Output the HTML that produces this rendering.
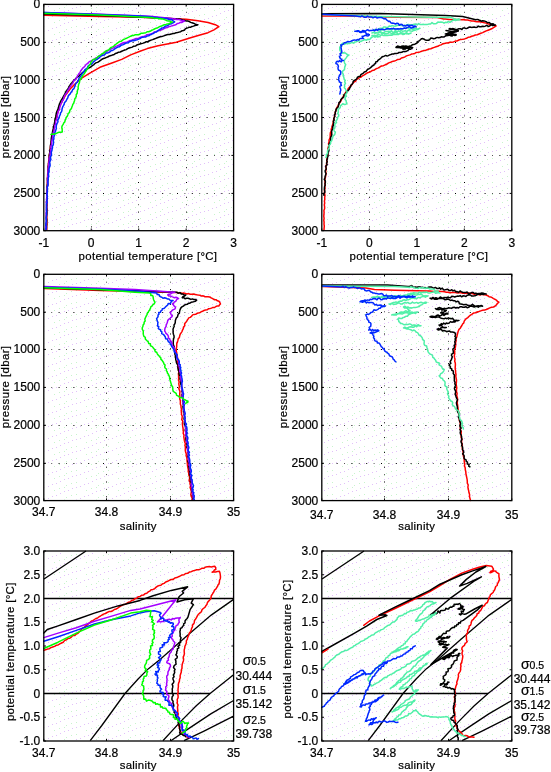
<!DOCTYPE html>
<html><head><meta charset="utf-8"><style>
html,body{margin:0;padding:0;background:#fff;}
svg{display:block;}
text{-webkit-font-smoothing:antialiased;}
.tx{will-change:transform;}
text{font-family:"Liberation Sans", sans-serif;fill:#000;stroke:#000;stroke-width:0.22;}
.f{fill:none;stroke:#000;stroke-width:1.3;}
.t{fill:none;stroke:#000;stroke-width:1;}
.g{stroke:#000;stroke-width:1;stroke-dasharray:1 13.8;}
.g2{stroke:#555;stroke-width:1;stroke-dasharray:1 13.8;stroke-dashoffset:-7.4;}
.d{fill:none;stroke-width:1.5;stroke-linejoin:round;stroke-linecap:round;}
.k{fill:none;stroke:#000;stroke-width:1.3;}
</style></head><body>
<svg class="tx" width="551" height="772" viewBox="0 0 551 772">
<defs><pattern id="bg" patternUnits="userSpaceOnUse" x="0" y="0" width="32" height="12"><rect x="0" y="11" width="1" height="1" fill="#e2c0fa"/><rect x="4" y="10" width="1" height="1" fill="#e2c0fa"/><rect x="8" y="8" width="1" height="1" fill="#e2c0fa"/><rect x="12" y="7" width="1" height="1" fill="#e2c0fa"/><rect x="16" y="6" width="1" height="1" fill="#e2c0fa"/><rect x="20" y="4" width="1" height="1" fill="#e2c0fa"/><rect x="24" y="3" width="1" height="1" fill="#e2c0fa"/><rect x="28" y="1" width="1" height="1" fill="#e2c0fa"/><rect x="2" y="5" width="1" height="1" fill="#c8f4cc"/><rect x="7" y="3" width="1" height="1" fill="#c8f4cc"/><rect x="12" y="2" width="1" height="1" fill="#c8f4cc"/><rect x="17" y="12" width="1" height="1" fill="#c8f4cc"/><rect x="22" y="10" width="1" height="1" fill="#c8f4cc"/><rect x="27" y="8" width="1" height="1" fill="#c8f4cc"/><rect x="0" y="7" width="1" height="1" fill="#c8f4cc"/></pattern></defs>
<rect x="44.8" y="5.4" width="187.8" height="224.3" fill="url(#bg)"/>
<rect x="322.8" y="5.4" width="188.0" height="224.3" fill="url(#bg)"/>
<rect x="44.8" y="275.3" width="187.8" height="224.3" fill="url(#bg)"/>
<rect x="322.8" y="275.3" width="188.0" height="224.3" fill="url(#bg)"/>
<rect x="44.8" y="552.0" width="187.8" height="188.0" fill="url(#bg)"/>
<rect x="322.8" y="552.0" width="188.0" height="188.0" fill="url(#bg)"/>
<line x1="91.50" y1="4.4" x2="91.50" y2="230.7" class="g"/>
<line x1="91.50" y1="4.4" x2="91.50" y2="230.7" class="g2"/>
<line x1="138.50" y1="4.4" x2="138.50" y2="230.7" class="g"/>
<line x1="138.50" y1="4.4" x2="138.50" y2="230.7" class="g2"/>
<line x1="186.50" y1="4.4" x2="186.50" y2="230.7" class="g"/>
<line x1="186.50" y1="4.4" x2="186.50" y2="230.7" class="g2"/>
<line x1="43.8" y1="42.50" x2="233.6" y2="42.50" class="g"/>
<line x1="43.8" y1="42.50" x2="233.6" y2="42.50" class="g2"/>
<line x1="43.8" y1="79.50" x2="233.6" y2="79.50" class="g"/>
<line x1="43.8" y1="79.50" x2="233.6" y2="79.50" class="g2"/>
<line x1="43.8" y1="117.50" x2="233.6" y2="117.50" class="g"/>
<line x1="43.8" y1="117.50" x2="233.6" y2="117.50" class="g2"/>
<line x1="43.8" y1="155.50" x2="233.6" y2="155.50" class="g"/>
<line x1="43.8" y1="155.50" x2="233.6" y2="155.50" class="g2"/>
<line x1="43.8" y1="193.50" x2="233.6" y2="193.50" class="g"/>
<line x1="43.8" y1="193.50" x2="233.6" y2="193.50" class="g2"/>
<line x1="369.50" y1="4.4" x2="369.50" y2="230.7" class="g"/>
<line x1="369.50" y1="4.4" x2="369.50" y2="230.7" class="g2"/>
<line x1="416.50" y1="4.4" x2="416.50" y2="230.7" class="g"/>
<line x1="416.50" y1="4.4" x2="416.50" y2="230.7" class="g2"/>
<line x1="464.50" y1="4.4" x2="464.50" y2="230.7" class="g"/>
<line x1="464.50" y1="4.4" x2="464.50" y2="230.7" class="g2"/>
<line x1="321.8" y1="42.50" x2="511.8" y2="42.50" class="g"/>
<line x1="321.8" y1="42.50" x2="511.8" y2="42.50" class="g2"/>
<line x1="321.8" y1="79.50" x2="511.8" y2="79.50" class="g"/>
<line x1="321.8" y1="79.50" x2="511.8" y2="79.50" class="g2"/>
<line x1="321.8" y1="117.50" x2="511.8" y2="117.50" class="g"/>
<line x1="321.8" y1="117.50" x2="511.8" y2="117.50" class="g2"/>
<line x1="321.8" y1="155.50" x2="511.8" y2="155.50" class="g"/>
<line x1="321.8" y1="155.50" x2="511.8" y2="155.50" class="g2"/>
<line x1="321.8" y1="193.50" x2="511.8" y2="193.50" class="g"/>
<line x1="321.8" y1="193.50" x2="511.8" y2="193.50" class="g2"/>
<line x1="106.50" y1="274.3" x2="106.50" y2="500.6" class="g"/>
<line x1="106.50" y1="274.3" x2="106.50" y2="500.6" class="g2"/>
<line x1="170.50" y1="274.3" x2="170.50" y2="500.6" class="g"/>
<line x1="170.50" y1="274.3" x2="170.50" y2="500.6" class="g2"/>
<line x1="43.8" y1="312.50" x2="233.6" y2="312.50" class="g"/>
<line x1="43.8" y1="312.50" x2="233.6" y2="312.50" class="g2"/>
<line x1="43.8" y1="349.50" x2="233.6" y2="349.50" class="g"/>
<line x1="43.8" y1="349.50" x2="233.6" y2="349.50" class="g2"/>
<line x1="43.8" y1="387.50" x2="233.6" y2="387.50" class="g"/>
<line x1="43.8" y1="387.50" x2="233.6" y2="387.50" class="g2"/>
<line x1="43.8" y1="425.50" x2="233.6" y2="425.50" class="g"/>
<line x1="43.8" y1="425.50" x2="233.6" y2="425.50" class="g2"/>
<line x1="43.8" y1="463.50" x2="233.6" y2="463.50" class="g"/>
<line x1="43.8" y1="463.50" x2="233.6" y2="463.50" class="g2"/>
<line x1="384.50" y1="274.3" x2="384.50" y2="500.6" class="g"/>
<line x1="384.50" y1="274.3" x2="384.50" y2="500.6" class="g2"/>
<line x1="448.50" y1="274.3" x2="448.50" y2="500.6" class="g"/>
<line x1="448.50" y1="274.3" x2="448.50" y2="500.6" class="g2"/>
<line x1="321.8" y1="312.50" x2="511.8" y2="312.50" class="g"/>
<line x1="321.8" y1="312.50" x2="511.8" y2="312.50" class="g2"/>
<line x1="321.8" y1="349.50" x2="511.8" y2="349.50" class="g"/>
<line x1="321.8" y1="349.50" x2="511.8" y2="349.50" class="g2"/>
<line x1="321.8" y1="387.50" x2="511.8" y2="387.50" class="g"/>
<line x1="321.8" y1="387.50" x2="511.8" y2="387.50" class="g2"/>
<line x1="321.8" y1="425.50" x2="511.8" y2="425.50" class="g"/>
<line x1="321.8" y1="425.50" x2="511.8" y2="425.50" class="g2"/>
<line x1="321.8" y1="463.50" x2="511.8" y2="463.50" class="g"/>
<line x1="321.8" y1="463.50" x2="511.8" y2="463.50" class="g2"/>
<polyline points="44.0,15.3 100.0,16.5 140.0,17.3 186.3,19.3 197.9,20.8 208.0,22.5 215.3,24.7 218.9,26.6 213.9,29.8 208.0,32.7 200.8,34.8 190.6,37.8 176.3,42.2 158.1,45.8 147.3,48.6 140.0,51.3 130.7,54.9 121.7,59.4 112.6,62.7 99.9,67.3 89.0,73.6 81.7,78.1 76.3,82.7 70.9,88.1 65.4,95.4 60.0,105.4 56.9,115.0 54.2,125.9 52.0,136.8 50.3,147.7 48.7,160.8 47.6,175.0 47.0,195.0 46.8,230.0" stroke="#ff0000" class="d"/>
<polyline points="44.0,14.0 100.0,15.5 150.0,17.5 179.0,18.9 180.7,19.3 182.5,19.9 184.2,20.2 185.9,20.9 187.7,21.1 189.2,21.4 190.5,22.4 192.0,22.8 193.5,23.2 194.9,23.9 196.4,24.4 197.9,24.7 196.5,25.3 194.9,25.5 193.5,26.1 192.0,26.5 190.7,27.2 189.1,27.2 187.8,27.9 186.3,28.3 185.3,28.9 184.5,30.0 183.4,30.5 181.9,30.8 180.6,31.7 179.1,32.1 177.6,32.5 176.1,32.7 174.5,33.4 172.8,33.5 171.2,34.1 169.5,34.5 167.8,34.6 166.1,35.0 164.5,35.6 163.1,36.1 161.7,36.6 160.1,36.8 158.7,37.3 157.3,37.8 155.8,38.4 154.2,39.0 152.6,39.6 151.0,40.1 149.5,40.8 148.0,41.5 146.3,41.8 144.8,42.5 143.2,43.1 141.6,43.6 140.0,44.0 138.4,44.5 136.8,45.0 135.5,46.1 133.7,46.2 132.3,47.1 130.7,47.6 129.1,48.0 127.6,48.6 126.2,49.6 124.7,50.0 123.2,50.6 121.7,51.3 120.2,52.0 118.6,52.2 117.1,53.0 115.5,53.4 114.2,54.5 112.6,54.9 111.1,55.6 109.5,55.9 108.1,56.8 106.6,57.4 105.1,58.0 103.5,58.5 101.9,59.2 100.5,60.4 99.1,61.4 97.6,62.4 95.8,62.9 94.4,64.0 93.7,64.9 92.6,65.4 91.4,66.5 90.1,67.3 88.7,68.1 87.3,68.9 86.0,69.7 84.9,70.9 83.6,71.8 82.3,72.8 81.2,74.0 79.9,74.9 78.9,76.2 77.4,76.9 76.3,78.1 75.2,79.3 74.1,80.5 72.9,81.6 71.9,82.8 70.7,84.0 69.9,85.4 68.9,86.8 68.3,88.4 67.3,89.8 66.2,91.2 65.4,92.7 64.8,94.2 64.0,95.4 63.2,96.8 62.6,98.2 61.7,99.5 60.9,100.8 60.2,102.4 59.4,104.0 59.0,105.8 58.4,107.4 58.0,109.2 57.2,110.8 56.5,112.3 56.3,113.8 55.9,115.4 55.7,116.9 55.2,118.5 54.9,120.0 54.8,121.7 54.4,123.4 54.2,125.1 53.3,126.6 53.4,128.3 53.0,130.0 52.6,131.7 52.3,133.3 52.2,135.0 51.6,136.6 51.3,138.3 51.3,140.0 51.1,141.7 51.1,143.5 50.5,145.1 50.4,146.9 50.5,148.6 49.9,150.3 49.8,152.0 49.6,153.6 49.2,155.2 49.3,156.9 49.2,158.5 49.2,160.1 49.0,161.8 48.5,163.4 48.5,165.0 48.2,166.7 48.4,168.3 48.1,170.0 48.2,171.7 48.2,173.4 48.0,175.0 47.9,176.7 47.4,178.3 47.5,180.0 47.7,181.7 47.6,183.3 47.4,185.0 47.0,186.7 47.3,188.3 47.3,190.0 46.9,191.7 47.1,193.3 46.7,195.0 46.9,196.7 47.0,198.3 46.8,200.0 46.5,201.8 46.7,203.5 46.7,205.3 46.5,207.1 46.8,208.8 46.8,210.6 46.8,212.4 46.7,214.1 46.4,215.9 46.3,217.6 46.7,219.4 46.7,221.2 46.6,222.9 46.7,224.7 46.3,226.5 46.4,228.2 46.3,230.0" stroke="#000000" class="d"/>
<polyline points="44.0,12.6 100.0,14.3 150.0,16.3 171.8,18.4 173.2,19.0 174.7,18.6 176.1,19.5 177.6,19.2 179.0,19.6 180.5,19.9 181.8,20.7 183.4,20.6 184.8,21.1 183.3,21.6 182.0,22.4 180.3,22.3 179.0,23.2 177.4,23.4 176.2,24.5 174.8,25.1 173.2,25.4 171.8,25.9 170.3,26.4 168.8,26.6 167.4,27.5 165.9,27.7 164.5,28.3 163.2,29.1 161.7,29.7 160.3,30.4 158.7,30.6 157.2,31.2 155.8,31.7 154.2,32.0 153.0,33.1 151.5,33.6 150.0,34.1 148.6,34.6 147.0,34.7 145.8,35.7 144.3,36.2 142.9,36.6 141.4,36.9 140.0,37.5 138.6,38.1 137.2,38.6 135.7,38.6 134.3,39.2 132.8,39.6 131.5,40.4 130.0,40.5 128.6,41.3 127.3,41.9 125.8,42.3 124.2,42.5 122.7,43.0 121.3,43.7 120.0,44.5 118.6,45.3 117.1,45.9 115.6,46.4 114.3,47.5 112.9,48.1 111.4,48.6 110.0,49.5 108.8,50.4 107.5,51.0 106.3,51.8 104.9,52.3 103.7,53.2 102.7,54.3 101.4,55.1 100.0,55.5 98.6,56.2 97.5,57.4 95.9,57.9 94.8,59.0 93.3,59.6 92.0,60.5 91.0,61.0 90.0,61.3 89.0,61.8 88.3,62.9 87.3,63.7 86.2,64.4 85.4,65.4 84.6,66.7 83.3,67.6 82.3,68.8 81.4,70.0 80.5,71.3 79.9,72.7 78.9,73.6 78.4,74.8 77.5,75.8 77.1,77.1 76.3,78.1 75.7,79.5 74.2,80.3 73.3,81.6 72.9,83.1 71.9,84.2 70.9,85.4 70.3,86.8 69.2,87.9 68.8,89.4 67.5,90.5 67.3,92.1 66.3,93.2 65.4,94.5 64.6,95.7 64.1,97.1 63.7,98.5 63.2,99.9 62.1,100.9 61.8,102.5 60.9,103.6 60.6,105.2 59.9,106.6 59.6,108.1 59.4,109.7 58.3,111.0 58.1,112.6 57.6,114.0 57.3,115.5 57.3,117.1 56.7,118.5 56.3,120.0 55.6,121.3 55.6,122.9 55.5,124.3 54.6,125.6 54.8,127.2 54.3,128.6 54.0,130.0 54.0,131.5 53.1,132.8 53.0,134.3 52.8,135.7 52.6,137.1 52.4,138.6 52.0,140.0 51.8,141.4 51.6,142.9 51.7,144.3 51.0,145.7 50.7,147.1 51.1,148.6 50.5,150.0 50.6,151.5 50.0,153.0 50.1,154.5 50.0,156.0 49.4,157.5 49.0,159.0 49.3,160.5 49.0,162.0 48.8,163.4 48.7,164.9 48.6,166.3 48.5,167.8 48.1,169.2 48.0,170.6 47.9,172.1 48.0,173.5 48.0,175.0 47.7,176.5 47.6,178.0 47.6,179.5 47.5,181.0 47.4,182.5 47.9,184.0 47.7,185.5 47.2,187.0 47.3,188.5 47.4,190.0 47.0,191.5 47.0,193.0 47.2,194.6 46.7,196.1 47.0,197.6 46.4,199.2 46.8,200.7 46.2,202.3 46.7,203.8 46.3,205.4 46.7,206.9 46.4,208.5 46.3,210.0 46.4,211.5 46.0,213.1 46.1,214.6 46.2,216.2 46.5,217.7 46.1,219.2 46.3,220.8 46.4,222.3 45.9,223.8 46.0,225.4 45.6,226.9 45.7,228.5 46.0,230.0" stroke="#a400ff" class="d"/>
<polyline points="44.0,12.6 100.0,14.5 140.0,15.9 150.0,16.7 151.6,16.9 153.1,17.2 154.6,17.6 156.3,17.4 157.8,17.6 159.3,18.1 160.9,18.1 162.5,18.2 164.0,18.5 165.6,18.6 167.2,18.6 168.7,19.3 170.2,19.8 171.8,19.6 172.7,20.5 173.7,21.2 174.7,21.8 173.7,22.5 172.5,23.0 171.6,23.8 170.3,24.0 169.0,24.4 168.1,25.3 166.9,25.9 165.4,25.9 164.5,26.9 163.4,27.8 161.9,27.9 160.8,28.9 159.6,29.5 158.4,30.4 157.3,31.2 156.2,32.1 154.8,32.2 153.8,33.2 152.5,33.7 151.4,34.5 150.0,34.8 148.7,35.8 147.2,36.0 145.9,36.9 144.3,37.1 142.7,37.2 141.3,37.6 140.0,38.6 138.7,39.1 137.5,39.7 136.1,39.9 134.8,40.6 133.4,40.8 132.0,40.8 130.7,41.3 129.4,41.7 128.3,42.8 126.8,42.9 125.6,43.4 124.3,44.0 123.1,44.7 121.7,44.9 120.5,45.8 119.3,46.8 117.7,47.1 116.4,47.9 115.1,48.7 113.9,49.7 112.6,50.4 111.2,50.6 110.2,51.7 109.1,52.5 107.8,52.9 106.3,53.0 105.3,54.0 104.3,55.0 102.7,55.3 101.4,55.9 100.2,56.7 99.2,57.8 98.0,58.5 97.0,59.4 95.6,60.0 94.6,61.0 93.5,61.9 92.6,63.0 91.6,64.1 90.1,64.5 89.0,65.4 87.9,66.3 87.4,67.7 86.5,68.8 85.1,69.4 84.4,70.7 83.6,71.8 82.8,73.1 81.8,74.3 81.0,75.7 80.1,77.0 79.0,78.1 78.7,79.6 77.8,80.7 77.4,82.2 76.1,83.1 75.4,84.4 75.1,85.9 74.5,87.2 73.9,88.7 72.6,89.7 72.0,91.3 70.9,92.5 70.2,93.9 69.0,95.0 68.1,96.3 67.8,97.8 67.0,99.0 66.4,100.3 65.6,101.5 64.5,102.6 64.2,104.1 63.6,105.4 62.8,106.6 62.4,107.8 62.0,109.2 61.9,110.6 61.4,111.9 60.5,113.0 60.3,114.6 59.5,116.0 59.2,117.6 58.5,119.0 57.7,120.0 58.0,121.4 57.6,122.6 56.9,123.7 56.4,125.2 56.2,126.8 56.4,128.5 55.8,130.0 55.4,131.5 54.7,133.0 54.7,134.6 54.2,136.0 53.8,137.4 53.9,139.0 53.3,140.3 53.5,141.9 53.4,143.4 53.3,144.8 52.4,146.2 52.5,147.7 52.1,149.1 51.9,150.6 51.3,152.0 51.4,153.5 51.5,155.0 50.8,156.4 50.4,157.8 50.9,159.4 50.3,160.8 49.7,162.3 50.0,164.0 50.1,165.6 49.5,167.1 49.0,168.7 49.1,170.3 49.1,171.9 48.4,173.4 48.5,175.0 48.8,176.5 48.1,178.0 48.3,179.5 47.9,181.0 47.9,182.5 48.0,184.0 48.0,185.5 47.2,187.0 47.5,188.5 47.3,190.0 47.5,191.5 47.1,193.1 46.8,194.6 47.5,196.2 47.0,197.7 47.3,199.2 46.6,200.8 47.3,202.3 46.4,203.8 46.6,205.4 46.6,206.9 46.5,208.5 46.5,210.0 46.7,211.5 46.5,213.1 46.7,214.6 46.5,216.2 46.2,217.7 46.2,219.2 46.4,220.8 46.1,222.3 45.9,223.8 45.8,225.4 46.6,226.9 46.0,228.5 46.0,230.0" stroke="#0028ff" class="d"/>
<polyline points="44.0,13.3 100.0,15.0 140.0,17.0 150.0,17.4 151.5,17.6 152.9,17.7 154.3,18.4 155.8,18.3 157.3,18.2 158.7,18.9 160.2,18.6 161.6,18.9 163.1,19.0 164.5,19.6 165.8,20.1 167.1,20.7 168.5,20.9 169.9,21.1 171.1,21.9 172.5,22.1 171.1,22.3 170.0,23.2 168.7,23.7 167.4,24.0 165.9,24.4 164.4,24.7 162.9,25.3 161.6,26.1 160.0,26.4 158.7,27.1 157.4,28.0 155.8,28.3 154.4,29.0 153.3,29.6 152.2,30.0 151.1,30.7 150.0,31.2 148.6,31.8 147.1,31.7 145.8,32.8 144.3,32.9 142.9,33.3 141.3,33.2 140.0,34.0 138.5,34.7 136.9,34.7 135.3,34.8 133.8,35.4 132.2,35.5 130.7,36.2 129.3,36.9 127.8,37.6 126.4,38.3 125.0,38.9 123.5,39.5 122.3,40.4 121.2,41.3 119.6,41.4 118.5,42.3 117.3,43.1 116.2,44.0 115.0,44.9 113.9,46.0 112.7,46.9 111.2,47.4 110.0,48.4 109.0,49.5 107.8,50.3 106.5,50.8 105.2,51.4 104.3,52.8 103.0,53.3 101.7,54.0 100.5,55.0 99.3,55.9 98.0,56.7 96.9,57.7 95.8,58.7 94.4,59.4 93.4,59.4 92.6,60.0 91.9,61.2 90.9,62.3 90.6,63.8 89.7,64.9 88.9,66.1 88.1,67.3 87.7,68.7 86.7,69.7 86.1,71.0 85.2,72.1 84.5,73.4 83.6,74.5 82.7,75.5 82.1,76.7 81.5,77.9 80.6,78.9 79.9,80.0 79.6,81.4 79.4,82.9 78.6,84.3 78.4,85.7 78.1,87.2 78.2,88.8 77.5,90.2 77.3,91.8 77.2,93.3 76.2,94.7 76.3,96.3 75.6,97.6 74.8,98.9 74.6,100.4 74.1,101.8 73.7,103.2 72.8,104.4 72.4,105.8 71.8,107.2 71.4,108.6 70.2,109.7 69.7,111.1 69.4,112.6 68.1,113.5 67.8,115.0 67.2,116.4 66.1,117.5 65.8,119.1 65.1,120.4 64.8,121.9 63.7,123.0 63.2,124.4 62.3,125.6 61.8,127.0 61.9,128.2 62.2,129.4 62.2,130.7 62.3,131.9 60.9,132.2 59.4,132.3 58.0,132.6 56.6,133.2 55.2,133.7 53.8,134.2 52.3,134.0 50.9,134.4" stroke="#00ff00" class="d"/>
<polyline points="322.0,16.0 344.7,16.0 396.0,17.2 437.2,17.5 443.7,19.0 445.5,19.1 447.3,19.2 449.1,19.5 450.9,19.6 452.7,19.7 454.5,19.3 456.3,19.8 458.1,19.5 459.9,19.5 461.7,19.7 463.7,19.6 465.6,20.1 467.6,20.1 469.6,20.4 471.5,20.9 473.5,21.0 475.3,21.5 477.1,21.8 479.0,21.6 480.8,21.9 482.6,22.3 484.4,22.8 486.2,23.1 487.8,23.8 489.5,24.3 491.1,24.8 492.8,25.0 494.5,25.5 496.2,25.9 494.7,26.9 493.1,27.8 491.6,28.8 489.9,29.5 488.1,30.2 486.2,30.9 484.4,31.7 482.7,32.6 480.8,33.3 479.0,34.0 477.3,34.8 475.3,35.0 473.6,35.7 471.7,36.2 470.0,37.0 468.1,37.3 466.4,38.3 464.6,38.9 462.7,39.3 460.7,39.4 458.9,40.0 457.2,40.9 455.3,41.1 453.5,41.9 451.7,42.3 449.9,42.2 448.1,43.0 446.3,43.0 444.5,43.4 442.7,43.8 441.1,44.9 439.4,45.4 437.7,46.3 436.0,46.8 434.3,47.4 432.5,48.0 430.8,48.7 429.0,49.0 427.2,49.7 425.4,50.4 423.5,50.6 421.7,51.2 419.9,51.9 418.0,52.2 416.3,52.4 414.8,53.4 413.2,53.8 411.5,54.1 410.0,54.9 408.2,55.4 406.5,55.9 404.9,56.8 403.3,57.6 401.4,58.0 399.8,59.3 397.8,59.4 396.1,60.4 394.3,61.1 392.3,61.4 390.6,62.3 388.7,62.9 387.0,64.0 385.2,64.8 383.4,65.7 381.4,66.0 379.6,67.1 377.9,68.1 376.0,68.8 374.4,69.9 372.4,70.4 370.9,71.5 369.2,72.2 367.4,72.8 365.8,73.8 364.3,74.9 362.6,75.7 361.2,77.0 359.4,77.6 357.9,78.6 356.4,79.5 355.7,81.2 354.1,82.0 352.8,83.2 352.0,84.8 350.7,85.9 349.4,87.2 348.2,88.5 347.6,90.4 346.3,91.7 345.2,93.1 344.2,94.7 343.2,96.3 342.7,98.1 341.4,99.6 340.7,101.3 339.6,102.8 338.6,104.4 337.8,106.1 336.8,107.6 336.1,109.4 335.6,111.2 335.2,113.0 334.8,114.9 334.4,116.7 334.0,118.5 333.5,120.3 333.2,122.2 332.9,124.0 332.2,125.8 331.9,127.6 331.2,129.2 331.3,131.1 330.4,132.7 330.2,134.5 330.2,136.3 330.0,138.1 329.1,139.8 329.1,141.6 328.5,143.4 328.8,145.3 328.3,147.2 328.0,149.0 327.9,150.9 328.1,152.8 327.8,154.7 327.2,156.5 327.0,158.4 326.8,160.2 326.7,162.1 326.7,164.0 326.1,165.8 326.0,167.7 326.1,169.6 325.7,171.4 326.0,173.3 325.7,175.2 325.5,177.1 325.0,178.9 324.9,180.8 325.1,182.7 325.2,184.5 324.7,186.4 325.1,188.2 324.5,190.1 324.5,191.9 324.6,193.7 325.0,195.6 324.7,197.4 324.8,199.3 324.4,201.1 324.7,203.0 324.3,204.8 324.6,206.7 324.6,208.7 323.9,210.6 324.1,212.6 323.9,214.5 323.8,216.4 324.1,218.4 323.8,220.3 324.1,222.2 324.0,224.2 324.3,226.1 324.1,228.1 324.0,230.0" stroke="#ff0000" class="d"/>
<polyline points="322.0,13.8 380.0,13.6 445.3,15.4 462.7,16.5 475.8,19.8 477.3,19.4 478.6,19.8 479.9,20.5 481.2,21.2 482.7,20.7 484.1,20.9 485.4,21.4 486.7,22.0 487.8,22.8 489.3,22.4 490.3,23.6 491.6,23.9 493.1,23.7 494.1,24.6 495.4,25.0 494.0,25.2 492.5,25.4 491.0,24.7 489.7,26.1 488.2,26.4 486.7,25.3 485.3,26.1 483.9,26.6 482.4,26.3 481.1,26.7 479.7,26.8 478.2,26.1 477.0,27.3 475.6,27.4 474.2,27.0 472.9,27.2 471.5,27.4 470.0,27.0 468.7,27.3 467.4,28.2 466.0,28.6 464.5,27.9 463.1,27.9 461.9,29.5 460.3,28.7 458.9,28.7 457.6,29.2 456.2,29.6 454.8,29.8 453.7,28.8 452.4,28.6 450.9,29.1 449.7,28.5 451.1,29.1 452.7,28.9 454.2,29.0 455.6,29.7 457.0,30.1 458.4,30.7 457.1,31.3 455.7,31.4 454.3,31.6 452.9,31.8 451.8,32.9 450.4,32.5 449.1,32.7 447.8,33.2 446.6,34.0 445.3,34.0 446.7,33.7 448.0,34.4 449.4,34.4 450.7,34.7 452.2,34.1 453.5,34.3 454.8,35.5 456.2,35.0 454.8,35.0 453.4,35.0 452.2,36.0 450.8,35.7 449.3,35.1 448.0,35.6 446.6,35.3 445.3,36.1 444.1,36.9 442.7,36.9 441.2,36.8 440.0,37.6 438.7,37.8 437.4,37.4 436.1,37.8 434.9,38.5 433.6,38.7 432.3,38.2 430.7,38.1 429.7,39.7 428.3,40.2 426.8,40.3 425.4,40.1 424.2,39.2 422.9,38.6 421.4,38.7 420.7,39.5 419.9,40.2 419.2,40.9 417.9,41.4 417.2,42.8 416.1,43.5 414.9,44.2 413.6,44.4 412.3,44.7 411.2,45.9 409.9,46.1 408.6,46.4 407.2,46.3 405.8,46.1 404.5,46.2 403.1,45.9 401.7,46.2 400.4,47.0 399.0,46.4 397.6,46.1 396.3,46.9 397.8,47.1 399.4,47.0 400.7,47.8 402.2,48.1 403.7,48.3 405.0,49.1 406.1,48.2 407.5,48.0 409.0,48.7 410.0,47.4 411.5,47.8 412.7,47.4 411.8,48.4 410.7,49.2 409.2,49.1 408.3,50.2 407.1,50.9 405.8,51.5 404.4,51.5 403.0,51.6 401.8,52.3 400.4,52.5 399.0,52.4 397.7,53.3 396.3,53.4 394.9,53.4 393.6,54.0 392.2,53.9 390.9,54.5 389.6,54.9 388.4,55.6 387.1,56.0 385.6,55.4 384.4,56.1 383.1,56.5 381.9,57.0 381.0,58.0 380.0,58.9 378.9,59.6 377.9,60.4 377.3,61.6 375.7,61.9 375.5,63.5 374.3,64.1 373.7,65.3 372.4,65.9 371.4,66.9 370.3,67.9 369.1,68.7 367.7,69.3 366.7,70.4 365.9,71.6 364.3,71.9 363.4,73.1 362.1,73.8 360.8,74.6 360.4,76.3 358.7,76.6 357.4,77.2 356.8,78.8 355.7,79.8 354.3,80.4 353.2,81.4 353.0,82.9 352.2,84.1 350.9,85.0 350.7,86.6 349.8,87.7 349.4,89.0 348.6,90.0 347.7,91.0 346.5,91.7 346.1,93.1 345.2,94.0 344.0,94.9 343.9,96.7 342.8,97.7 341.6,98.6 340.9,99.6 340.5,100.8 340.0,101.8 338.9,102.6 338.9,104.0 338.6,105.2 338.2,106.4 337.8,107.5 336.7,108.3 336.1,109.4 335.9,110.9 335.2,112.2 335.4,113.8 334.3,115.0 334.9,116.3 334.3,117.5 333.7,118.8 334.2,120.1 333.3,121.3 333.8,122.6 333.4,124.0 333.4,125.5 332.5,126.8 333.0,128.4 332.2,129.8 331.6,131.1 331.7,132.6 331.7,134.1 331.7,135.6 330.8,136.9 330.6,138.4 330.8,139.9 330.3,141.4 329.8,142.8 329.0,144.1 329.2,145.7 329.1,147.2 328.4,148.5 329.0,150.1 328.6,151.6 328.0,153.0 327.9,154.5 328.1,156.0 327.5,157.4 327.4,158.9 326.7,160.3 327.3,161.8 326.5,163.2 327.2,164.8 325.8,166.1 326.0,167.6 326.3,169.1 325.2,170.5 325.2,172.0 326.1,173.6 325.6,175.0 325.1,176.4 325.0,177.9 324.2,179.3 325.3,180.8 325.4,182.3 324.9,183.7 325.2,185.2 324.6,186.6 324.4,188.0 324.4,189.5 324.8,191.0 324.8,192.4 323.7,193.8 324.0,195.3" stroke="#000000" class="d"/>
<polyline points="322.0,14.6 380.0,16.4 448.6,17.4 450.2,17.0 451.5,17.6 452.9,18.0 454.2,19.2 455.7,18.9 457.1,19.5 458.7,18.9 460.0,19.8 458.5,20.0 457.0,19.8 455.6,20.5 454.0,20.1 452.6,20.4 451.3,21.5 449.9,22.3 448.3,21.4 447.0,22.6 445.4,22.3 444.0,23.2 442.4,22.2 440.9,22.1 439.4,22.2 437.9,22.1 436.5,23.4 435.0,23.7 433.6,23.8 432.0,22.5 430.6,24.0 429.1,24.0 427.6,24.4 426.1,24.4 424.6,24.6 423.1,24.2 421.7,24.6 420.2,24.5 418.6,23.6 417.2,24.9 415.6,24.0 414.2,24.2 412.7,24.7 411.2,24.7 409.7,24.7 408.2,24.5 406.7,24.9 405.3,25.5 403.8,25.4 402.3,25.6 400.8,25.4 399.2,24.6 397.8,25.5 396.3,25.5 395.0,26.4 393.5,25.9 392.0,25.6 390.7,26.3 389.2,26.1 387.9,27.3 386.5,27.5 385.0,27.0 383.6,27.1 382.4,28.4 380.9,28.3 379.5,28.5 378.2,29.1 376.9,29.7 375.6,30.0 374.0,29.6 375.5,30.3 377.0,29.8 378.5,30.2 379.9,29.4 381.5,30.1 382.9,29.9 384.4,29.5 385.9,29.3 387.4,29.3 388.9,28.8 390.3,29.0 391.8,29.5 393.3,28.6 394.8,29.6 396.3,29.0 397.8,29.0 399.3,29.1 400.8,29.4 402.2,29.0 403.7,28.2 405.2,28.3 406.6,27.9 408.1,27.8 409.7,29.3 411.1,28.6 412.6,29.2 414.1,28.8 415.5,28.1 417.1,29.0 418.5,28.9 420.0,28.2 418.7,28.7 417.6,29.6 416.2,29.7 415.0,30.3 413.6,30.4 412.5,31.2 411.0,31.0 409.6,30.7 408.2,30.3 406.8,31.6 405.4,30.7 404.0,31.0 402.6,31.2 401.2,30.6 399.8,31.5 398.4,30.8 397.0,32.1 395.6,30.6 394.2,31.9 392.8,32.2 391.4,30.9 390.0,31.5 388.6,31.3 387.2,31.5 385.8,31.4 384.5,32.2 383.1,32.7 381.7,32.5 380.2,31.6 378.9,31.7 377.6,33.0 376.2,32.7 374.8,32.8 373.3,32.2 372.0,33.0 373.4,32.2 374.9,33.5 376.3,32.6 377.8,33.1 379.2,32.4 380.7,32.4 382.1,33.7 383.6,33.1 385.0,33.8 386.4,33.7 387.9,33.5 389.3,32.4 390.8,33.2 392.2,33.9 393.7,33.1 395.1,32.4 396.6,32.6 398.0,33.9 399.4,33.9 400.9,32.7 402.3,32.9 403.8,33.5 405.2,33.2 406.7,32.7 408.1,34.0 409.6,33.4 411.0,33.2 409.7,33.5 408.3,34.2 406.9,33.5 405.5,33.3 404.2,34.3 402.9,34.6 401.4,33.7 400.0,33.5 398.7,34.5 397.4,34.4 396.0,34.5 394.6,34.3 393.2,34.6 391.8,35.3 390.4,35.1 389.0,35.3 387.6,35.4 386.1,35.6 384.7,35.2 383.3,35.5 381.9,34.6 380.5,35.5 379.0,34.5 377.6,34.8 376.3,35.8 374.8,36.0 373.4,35.4 372.0,35.6 373.3,35.7 374.7,36.0 376.1,35.5 377.3,36.2 378.6,36.8 380.0,36.5 378.7,36.7 377.5,37.1 376.2,36.1 375.0,37.2 373.6,36.1 372.4,37.0 371.3,37.5 370.6,38.5 369.4,39.6 367.7,39.3 366.4,40.2 364.7,39.6 363.4,40.4 362.0,40.8 360.7,41.6 359.0,40.6 357.7,41.1 356.3,41.7 354.9,42.1 353.7,43.2 352.0,42.0 350.7,43.1 349.4,43.5 348.1,43.3 346.8,43.5 345.5,43.7 344.3,44.5 342.8,43.2 341.6,44.0 341.2,45.2 340.9,46.4 339.7,47.2 339.8,48.6 339.7,49.9 340.3,51.0 341.0,52.0 342.1,53.1 343.7,52.8 345.2,52.9 346.4,53.8 347.5,54.7 348.9,55.0 347.6,55.8 346.8,56.9 346.0,58.1 345.1,59.2 344.3,60.4 344.3,61.8 344.6,63.2 345.7,64.4 345.2,65.9 344.7,67.1 344.6,68.4 344.5,69.7 343.2,70.6 342.4,71.7 342.5,73.1 343.3,74.2 343.1,75.6 343.7,76.8 344.0,78.1 344.2,79.4 345.2,80.4 344.7,81.8 345.5,83.4 344.5,84.8 344.7,86.3 344.3,87.7 345.3,88.8 345.9,90.3 347.0,91.3 347.2,92.6 346.2,93.7 345.4,94.8 346.5,96.3 345.0,97.2 345.2,98.6 345.3,99.8 346.2,100.8 346.2,102.1 347.0,103.1 345.9,104.2 344.5,104.5 342.7,103.7 341.6,104.9 340.5,105.9 340.2,107.5 339.4,108.6 338.0,109.4 338.3,110.7 338.3,112.1 337.7,113.5 338.7,114.7 338.7,116.2 337.6,117.2 337.5,118.6 336.8,119.9 335.8,121.0 336.6,122.7 335.1,123.6 334.8,125.0 335.0,126.5 334.8,127.9 333.8,129.0 334.0,130.2 334.4,131.3 335.4,132.1 335.0,133.4 334.7,134.7 333.5,135.6 332.8,136.7 332.6,138.1 331.9,139.3 331.8,140.7 330.6,141.6 330.7,143.1 330.1,144.5 328.9,145.5 329.4,147.2 328.8,148.5 328.0,149.8 327.5,151.1 327.6,152.5 327.3,153.7 326.2,154.8 326.6,156.2 325.9,157.4" stroke="#50f0a8" class="d"/>
<polyline points="322.0,14.2 356.3,16.0 357.7,16.2 359.1,16.4 360.4,16.8 361.9,15.9 363.3,16.7 364.6,17.2 366.0,17.3 367.5,16.1 368.8,17.0 370.2,17.0 371.6,16.9 373.0,17.8 374.4,17.1 375.8,17.1 377.2,18.0 378.6,17.6 380.0,17.4 381.4,17.5 382.7,18.0 383.9,18.8 385.5,18.6 386.5,19.8 387.5,20.5 388.5,21.3 389.9,21.3 390.6,22.6 391.7,23.2 393.1,23.1 394.3,23.5 395.6,24.0 397.0,23.2 398.3,23.4 399.3,25.3 400.8,24.3 402.1,24.5 403.1,25.9 404.5,25.5 405.7,26.1 407.1,25.0 408.4,25.5 409.7,25.5 410.9,25.6 412.2,25.3 413.4,26.3 414.8,26.0 416.0,26.5 414.7,26.9 413.5,27.4 412.3,27.7 411.0,28.0 409.5,26.7 408.3,27.1 407.0,27.6 405.9,28.5 404.5,28.0 403.2,28.7 401.8,28.8 400.5,28.6 399.1,29.1 397.8,28.8 396.4,29.0 395.1,29.1 393.7,28.3 392.3,28.8 391.0,28.8 389.6,29.1 388.3,28.8 386.9,28.5 385.6,29.4 384.2,29.9 382.9,29.3 381.5,29.3 380.2,29.7 378.7,29.1 377.5,30.4 376.0,29.2 374.8,30.9 373.3,30.0 372.0,30.4 370.6,30.4 369.3,30.8 367.9,29.8 366.6,30.2 365.4,31.3 364.0,30.7 362.7,30.6 361.4,31.7 360.1,31.7 358.7,30.8 357.4,30.7 356.1,31.2 354.8,31.2 356.1,31.2 357.3,31.4 358.6,31.1 359.7,32.3 360.9,32.6 362.3,31.9 363.5,32.0 365.0,31.8 365.9,33.0 366.7,34.2 368.3,34.0 369.3,34.9 368.2,35.8 367.0,35.9 365.6,35.2 364.5,35.6 363.4,36.4 362.1,36.3 362.6,37.6 363.4,38.6 362.1,38.4 360.8,38.4 359.6,38.9 358.6,39.9 357.2,39.6 356.1,40.4 354.6,39.9 353.2,40.3 351.9,40.8 350.6,41.4 349.3,41.8 347.8,41.5 346.5,42.2 345.2,42.7 343.9,42.9 343.2,44.2 342.1,45.0 340.7,44.9 341.3,46.2 341.0,47.7 341.2,49.0 341.6,50.4 341.8,51.7 341.5,52.9 339.9,53.8 341.1,55.4 339.4,56.2 339.8,57.6 340.4,58.7 341.5,59.1 342.0,60.4 343.4,60.4 342.1,60.4 341.2,61.9 339.6,60.6 338.6,61.8 337.1,61.3 336.1,62.3 335.9,63.6 337.5,64.2 338.0,65.3 338.4,66.3 338.0,67.7 338.1,69.0 338.6,70.1 340.1,70.7 340.8,71.7 340.7,73.1 340.6,74.3 339.5,75.1 339.2,76.3 338.6,77.3 338.9,78.6 338.5,79.9 339.2,80.9 339.4,82.0 341.2,82.6 340.7,84.0 341.5,85.3 339.8,86.4 340.1,87.7 340.6,89.0 340.8,90.3 340.3,91.5 340.2,92.8 339.8,94.0" stroke="#0028ff" class="d"/>
<polyline points="446.0,30.5 452.0,31.5 458.0,31.0 450.0,33.5 456.0,34.5 446.0,35.5" stroke="#000000" class="d"/>
<polyline points="396.0,47.5 404.0,47.8 410.0,47.2 403.0,49.3" stroke="#000000" class="d"/>
<polyline points="449.0,29.0 457.0,30.0" stroke="#000000" class="d"/>
<polyline points="44.0,288.5 100.0,290.5 135.0,291.5 175.4,292.6 177.1,292.5 178.7,292.9 180.4,292.7 182.0,293.5 183.6,293.0 185.3,293.5 186.9,294.0 188.6,293.6 190.2,294.3 191.8,294.2 193.5,294.1 195.1,294.4 196.7,294.8 198.3,295.1 200.0,295.2 201.5,296.1 203.2,295.8 204.7,296.7 206.3,296.8 208.0,296.8 209.8,297.0 211.2,297.9 212.7,298.7 214.2,299.7 216.0,299.7 217.4,300.8 219.0,301.3 219.9,302.6 220.5,304.0 219.5,304.8 219.0,305.9 217.4,305.9 215.9,306.5 214.6,307.5 212.9,307.4 211.5,308.1 210.0,308.5 208.4,308.8 207.0,309.8 205.4,310.0 203.9,310.5 202.4,311.3 201.0,311.9 199.6,312.8 198.2,312.9 196.9,313.5 195.6,314.3 194.2,314.4 192.6,314.9 191.5,316.2 190.3,317.4 188.7,317.9 188.0,319.1 187.2,320.2 186.6,321.5 185.6,322.5 184.6,323.9 184.8,325.7 183.5,327.0 183.3,328.7 182.5,330.1 182.0,331.6 181.1,332.9 180.2,334.2 179.7,335.8 179.4,337.4 178.2,338.8 177.9,340.4 177.5,341.9 176.8,343.4 176.7,345.0 176.7,346.6 176.4,348.2 176.2,349.7 176.3,351.2 176.7,352.8 176.9,354.6 177.3,356.3 177.6,358.1 177.9,359.8 177.7,361.5 177.6,363.3 177.8,365.0 177.9,366.7 178.8,368.4 178.4,370.2 178.9,371.9 178.4,373.7 178.6,375.4 178.6,377.0 178.7,378.6 178.5,380.3 179.2,381.9 178.8,383.5 179.0,385.1 179.5,386.7 178.8,388.4 179.4,390.0 180.0,391.7 179.7,393.5 179.8,395.3 179.9,397.0 179.7,398.8 180.3,400.5 180.4,402.2 180.3,404.0 181.0,405.7 181.0,407.4 181.5,409.1 181.2,410.9 181.6,412.6 181.4,414.4 182.2,416.0 182.1,417.8 181.7,419.6 182.9,421.2 182.4,423.0 182.5,424.7 182.7,426.4 183.0,428.2 183.2,429.9 183.4,431.6 183.2,433.4 184.0,435.0 183.8,436.8 184.1,438.5 184.3,440.2 184.7,441.9 185.4,443.6 184.9,445.4 185.6,447.1 185.3,448.9 185.3,450.6 185.7,452.3 186.3,454.0 186.1,455.8 186.8,457.4 187.0,459.1 187.0,460.9 187.3,462.6 187.4,464.4 187.6,466.2 187.9,467.9 188.3,469.7 188.2,471.5 188.8,473.2 188.7,475.0 189.5,476.7 189.6,478.5 189.1,480.4 190.0,482.1 190.0,483.9 190.6,485.6 190.1,487.5 190.8,489.2 191.3,491.0 191.2,492.8 190.8,494.6 191.2,496.4 192.2,498.1 191.9,499.9" stroke="#ff0000" class="d"/>
<polyline points="44.0,287.8 100.0,289.8 135.0,290.8 176.7,292.2 178.0,293.2 179.9,292.6 181.2,293.9 182.8,294.0 184.1,295.0 185.8,295.0 184.7,296.0 183.1,296.4 182.2,297.7 183.7,297.5 185.0,298.8 186.6,298.3 188.1,298.3 189.5,298.8 190.9,299.4 192.4,298.9 193.8,299.6 195.3,299.4 196.7,300.2 195.5,301.2 194.0,301.6 192.6,302.1 191.1,302.3 189.9,303.2 188.4,303.3 187.2,304.3 185.7,304.5 184.4,305.1 183.3,306.2 181.9,306.9 180.9,307.9 180.2,309.3 179.8,310.6 179.5,311.9 179.4,313.2 178.2,314.1 177.8,315.5 177.4,317.0 176.3,317.9 175.8,319.3 175.3,320.7 175.3,322.2 174.9,323.7 174.0,324.9 174.2,326.5 173.4,328.0 173.0,329.5 173.2,331.1 173.1,332.6 173.4,334.2 174.0,335.7 174.1,337.2 173.6,338.8 173.3,340.4 173.3,341.9 173.2,343.5 173.5,345.0 174.1,346.5 174.4,348.1 174.6,349.6 175.0,351.2 174.8,352.8 174.9,354.2 175.4,355.6 175.3,357.0 175.7,358.4 175.8,359.8 176.2,361.1 176.4,362.5 176.9,363.8 178.0,364.9 178.1,366.3 177.8,367.9 178.2,369.3 178.5,370.7 179.2,372.1 178.9,373.6 179.4,375.1 180.3,376.4 180.0,377.9 180.1,379.4 180.8,380.8 180.7,382.4 180.7,383.9 181.4,385.4 181.4,387.0 182.3,388.4 182.0,390.0 181.9,391.5 182.6,393.0 182.0,394.5 181.9,396.0 182.6,397.5 183.0,399.0 182.6,400.5 183.3,402.0 182.9,403.6 183.5,405.1 182.9,406.7 183.2,408.3 183.5,409.8 183.4,411.4 184.2,412.9 184.0,414.5 184.6,416.0 184.2,417.6 184.0,419.2 185.0,420.7 184.5,422.3 184.3,423.9 185.2,425.4 185.5,426.9 185.6,428.5 185.1,430.1 185.6,431.6 186.3,433.1 185.6,434.7 186.3,436.2 185.9,437.8 185.9,439.4 186.1,440.9 187.0,442.4 186.7,444.0 187.2,445.5 186.7,447.1 187.5,448.6 187.8,450.2 187.7,451.7 188.2,453.3 188.2,454.8 187.8,456.4 188.4,457.9 188.7,459.5 187.9,461.1 188.6,462.6 189.1,464.1 188.6,465.8 189.0,467.3 189.3,468.8 189.4,470.4 189.7,471.9 189.5,473.5 189.9,475.1 190.6,476.6 190.3,478.2 190.7,479.7 190.4,481.3 191.5,482.7 191.3,484.4 190.9,486.0 192.2,487.4 191.6,489.1 191.6,490.6 192.1,492.1 193.0,493.6 192.3,495.3 193.1,496.8 193.0,498.3 193.2,499.9" stroke="#000000" class="d"/>
<polyline points="44.0,286.5 100.0,288.2 135.0,289.5 174.9,292.2 173.4,292.6 171.9,292.9 170.6,293.9 169.0,294.2 167.7,295.0 168.9,295.9 170.4,295.9 171.7,296.6 173.1,297.1 174.4,297.7 176.0,297.2 177.4,297.8 178.6,298.6 177.2,299.0 176.3,300.1 175.7,301.5 174.3,301.9 173.7,303.3 172.4,303.9 173.3,304.8 174.0,305.8 175.0,306.6 175.5,307.8 174.7,309.1 173.3,309.6 172.1,310.4 171.3,311.6 170.1,312.4 170.7,313.5 171.2,314.8 172.4,315.5 171.8,316.9 170.6,317.6 169.8,318.8 168.5,319.4 167.7,320.7 167.4,322.2 166.8,323.6 166.2,324.9 166.1,326.5 165.1,327.9 164.8,329.5 164.7,331.1 165.5,332.1 165.9,333.4 167.0,334.2 167.9,335.3 168.4,336.6 168.4,338.2 169.8,339.0 170.1,340.4 171.1,341.4 171.8,342.6 171.8,344.2 172.2,345.5 173.2,346.6 174.2,347.7 174.1,349.1 174.7,350.3 175.2,351.5 175.5,352.8 176.3,354.1 176.6,355.6 177.3,356.9 176.9,358.6 177.9,359.8 178.6,361.2 178.5,362.7 178.6,364.2 178.9,365.7 179.4,367.1 179.7,368.5 180.0,370.0 179.6,371.5 180.7,372.8 180.8,374.2 180.8,375.7 180.4,377.2 180.9,378.6 181.0,380.0 181.3,381.4 181.8,382.8 181.9,384.2 181.4,385.7 182.0,387.1 181.9,388.6 182.0,390.0 182.5,391.4 182.5,392.8 182.8,394.2 182.1,395.8 182.6,397.2 182.9,398.6 183.0,400.0 183.5,401.5 182.9,403.1 183.4,404.7 184.0,406.2 184.1,407.7 183.4,409.4 184.3,410.8 184.3,412.4 184.8,413.9 184.1,415.5 185.0,417.0 184.7,418.6 184.7,420.2 185.1,421.7 185.4,423.2 185.7,424.8 185.3,426.4 186.0,427.9 185.7,429.5 186.0,431.0 185.6,432.6 185.8,434.1 186.2,435.7 186.5,437.2 187.2,438.7 186.5,440.3 186.6,441.9 187.4,443.4 187.9,444.9 187.5,446.5 187.7,448.0 187.4,449.6 187.6,451.2 188.2,452.7 188.2,454.3 188.4,455.8 188.4,457.4 188.5,458.9 188.7,460.5 189.0,462.0 189.5,463.5 189.0,465.2 190.1,466.7 190.0,468.3 189.9,469.9 190.7,471.4 190.2,473.1 190.7,474.6 190.9,476.2 191.4,477.8 191.2,479.4 191.2,481.0 192.0,482.5 191.2,484.2 191.2,485.8 192.0,487.3 192.1,488.9 192.0,490.5 192.4,492.1 192.6,493.7 193.0,495.2 193.1,496.8 193.5,498.4 193.5,500.0" stroke="#a400ff" class="d"/>
<polyline points="44.0,287.2 100.0,289.0 135.0,291.0 156.8,293.1 157.2,294.5 159.0,294.5 159.4,295.9 160.4,296.8 161.8,297.2 163.0,298.3 164.7,297.8 166.1,298.3 167.4,298.9 168.9,299.0 170.1,300.2 171.5,300.6 173.1,300.4 171.8,301.1 170.9,302.3 170.3,303.7 168.3,303.5 167.7,305.0 166.7,305.8 165.7,306.8 164.7,307.8 163.7,308.6 162.3,308.8 162.0,310.4 160.8,310.9 160.6,312.2 158.7,312.5 159.0,314.2 158.0,315.0 158.1,316.3 157.6,317.5 156.6,318.6 157.0,320.0 157.3,321.2 158.0,322.3 157.7,323.6 157.8,324.8 157.5,326.0 158.8,326.6 158.3,328.4 159.2,329.3 160.6,329.8 160.8,331.1 161.9,331.8 161.7,333.5 162.9,334.2 163.9,335.0 164.7,336.0 165.4,337.2 165.6,338.7 167.4,339.1 167.8,340.4 168.4,341.8 170.0,342.5 170.2,344.1 171.3,345.1 171.7,346.6 172.7,347.7 173.4,349.0 174.1,350.3 174.2,351.9 175.5,352.8 176.2,353.9 177.2,354.8 176.6,356.5 176.9,357.7 177.6,358.9 178.6,359.8 179.2,361.0 179.3,362.4 179.0,363.8 180.3,364.9 179.9,366.3 180.8,367.5 180.3,369.0 181.0,370.3 180.9,371.7 181.6,373.0 180.5,374.6 181.5,375.8 181.7,377.2 182.0,378.6 182.2,380.0 182.4,381.4 181.6,382.9 181.7,384.3 181.8,385.8 181.7,387.2 182.3,388.6 182.6,390.0 182.9,391.3 183.0,392.6 183.6,393.9 183.3,395.2 183.2,396.6 182.8,397.9 183.4,399.2 183.6,400.5 184.4,401.9 183.8,403.5 184.3,404.9 183.7,406.5 183.8,408.0 184.3,409.4 184.3,410.9 184.9,412.3 185.2,413.8 184.5,415.4 184.7,416.8 185.2,418.3 184.8,419.8 185.1,421.3 185.4,422.7 186.5,424.1 185.3,425.7 186.8,427.1 186.8,428.6 187.1,430.1 186.6,431.6 187.3,433.0 186.6,434.6 186.9,436.0 187.8,437.4 187.8,438.9 187.1,440.5 187.9,441.9 188.2,443.4 187.4,444.9 188.5,446.3 188.9,447.8 188.3,449.3 188.1,450.8 189.5,452.2 188.6,453.8 189.5,455.2 188.5,456.8 189.3,458.2 189.7,459.6 189.8,461.1 189.7,462.6 190.5,464.0 190.8,465.4 190.2,466.9 190.4,468.3 191.1,469.7 191.4,471.1 191.0,472.6 190.4,474.2 192.0,475.4 191.2,477.0 191.0,478.5 192.1,479.8 192.2,481.2 192.1,482.7 192.8,484.1 193.3,485.5 193.3,486.9 192.3,488.5 193.2,489.8 192.6,491.4 193.9,492.7 193.2,494.2 194.2,495.5 194.2,497.0 193.7,498.5 194.3,499.9" stroke="#0028ff" class="d"/>
<polyline points="44.0,287.8 100.0,289.5 135.0,292.2 149.5,293.1 150.8,293.6 150.8,295.4 152.6,295.5 153.1,296.8 153.3,298.3 153.6,299.7 154.2,301.0 155.0,302.2 154.5,303.3 153.8,304.2 152.7,304.8 152.2,305.9 150.9,306.6 150.6,307.9 150.0,309.1 149.5,310.3 148.6,311.3 148.2,312.4 147.2,313.3 147.1,314.6 146.4,315.6 145.9,316.7 145.3,318.0 144.8,319.4 145.2,321.0 144.1,322.2 144.1,323.7 143.1,325.0 142.9,326.5 142.2,327.8 142.3,329.4 143.2,330.7 143.3,332.1 143.2,333.6 143.5,335.0 143.9,336.4 145.3,337.3 145.3,338.9 146.3,340.0 147.3,341.0 148.3,341.9 148.7,343.5 150.4,343.8 150.4,345.6 151.8,346.3 152.8,347.2 153.5,348.3 154.4,349.2 154.9,350.4 155.3,351.8 156.7,352.3 157.2,353.6 157.9,354.8 158.9,355.8 159.8,356.9 160.8,357.9 161.0,359.4 162.1,360.4 162.8,361.5 163.6,362.7 164.0,364.0 165.1,365.1 164.7,366.7 165.1,368.0 166.5,369.0 166.3,370.6 167.2,371.7 167.4,373.1 168.4,374.3 168.9,375.7 169.6,377.0 169.6,378.5 170.0,379.9 170.4,381.2 170.8,382.6 171.2,384.0 171.6,385.5 172.6,386.8 172.8,388.2 172.8,389.8 173.3,391.2 174.3,392.1 175.5,392.8 176.3,393.8 176.6,395.4 178.0,395.9 179.1,396.9 180.3,397.5 181.8,397.7 183.1,398.5 184.1,399.5 185.5,400.0 186.7,400.8 188.0,401.3 187.7,402.5 186.3,402.6 185.7,403.6" stroke="#00ff00" class="d"/>
<polyline points="322.0,286.5 365.8,288.0 374.5,289.4 394.8,290.2 428.2,290.9 430.0,291.0 431.8,291.2 433.6,291.6 435.5,291.2 437.3,291.3 439.1,291.3 440.9,291.5 442.7,291.5 444.5,291.8 446.3,292.2 448.1,292.3 449.9,292.8 451.7,292.6 453.5,292.5 455.4,292.6 457.2,292.9 459.0,292.7 460.8,292.6 462.6,293.3 464.4,293.1 466.4,293.4 468.4,293.1 470.4,293.3 472.4,293.5 474.3,294.3 476.3,293.8 478.3,294.4 480.2,294.9 482.3,294.3 484.2,294.7 486.2,295.0 487.7,295.7 489.0,296.7 490.7,296.9 492.1,297.7 493.5,298.6 495.0,299.3 496.4,300.1 497.5,301.4 498.9,302.2 497.5,303.3 496.5,304.7 495.3,305.9 493.6,307.0 491.6,307.2 489.8,307.9 488.0,308.7 486.2,309.5 484.4,310.1 482.5,310.3 480.7,310.9 478.9,311.5 477.1,312.0 475.4,312.8 473.5,313.1 472.1,314.2 470.5,315.1 469.1,316.3 467.8,317.6 466.3,318.6 465.2,319.8 464.2,321.1 463.8,322.9 462.6,324.0 461.9,325.5 461.0,326.8 460.2,328.3 459.0,329.4 458.2,331.2 457.7,333.1 457.2,335.0 456.8,336.9 456.0,338.8 456.1,340.9 455.6,342.8 455.7,344.6 455.5,346.5 455.2,348.3 454.6,350.0 454.6,351.9 454.8,353.7 454.3,355.5 454.5,357.4 455.0,359.3 454.7,361.2 455.3,363.1 455.4,365.0 455.2,366.9 455.2,368.8 455.6,370.7 455.6,372.6 456.0,374.5 455.8,376.4 456.2,378.3 456.5,380.2 456.4,382.1 456.2,384.0 456.4,386.0 456.8,387.8 456.4,389.8 456.6,391.7 457.1,393.6 456.7,395.5 457.3,397.4 457.6,399.3 457.4,401.2 457.2,403.1 457.6,405.0 457.8,407.0 458.1,408.9 458.4,410.8 458.8,412.7 459.1,414.7 459.2,416.6 459.4,418.6 459.3,420.6 460.3,422.4 460.2,424.4 460.6,426.2 460.2,428.1 460.6,430.0 461.3,431.8 461.1,433.6 461.2,435.5 461.1,437.4 462.0,439.2 461.5,441.1 461.8,442.9 462.3,444.7 462.3,446.6 462.3,448.5 462.7,450.3 463.2,452.2 463.1,454.2 463.4,456.2 464.1,458.1 464.2,460.0 464.3,462.0 464.8,463.9 464.4,465.9 465.2,467.8 465.3,469.8 465.8,471.7 465.9,473.6 466.3,475.5 466.7,477.4 467.1,479.3 467.3,481.3 467.3,483.2 468.2,485.0 467.9,487.1 468.2,489.0 468.7,490.9 469.0,492.8 469.6,494.6 469.5,496.6 470.0,498.5 470.5,500.4" stroke="#ff0000" class="d"/>
<polyline points="322.0,285.1 387.6,285.1 407.9,286.5 409.4,286.4 410.8,286.1 412.3,286.1 413.7,287.5 415.2,287.0 416.6,287.2 418.1,287.0 419.5,286.8 421.0,287.5 422.4,287.3 423.9,287.7 425.3,287.6 426.8,288.0 428.2,287.3 429.7,286.9 431.2,286.9 432.6,287.6 433.9,288.2 435.4,287.4 436.7,288.4 438.1,288.6 439.6,287.8 440.7,289.2 442.3,288.1 443.5,289.8 444.8,289.9 446.3,289.5 447.7,289.2 449.0,290.4 450.3,290.6 451.8,289.7 453.0,290.9 454.6,290.2 455.7,291.8 457.1,291.6 458.4,292.4 460.0,291.0 461.3,291.7 462.6,292.2 464.1,292.5 465.5,292.6 467.1,292.0 468.4,293.4 469.9,293.4 471.5,292.6 473.0,292.4 474.4,293.5 475.9,293.1 477.3,293.7 478.8,293.5 480.3,293.4 481.8,292.9 483.3,293.2 484.7,293.9 486.2,294.1 484.7,293.8 483.3,294.5 481.8,294.0 480.4,294.5 478.9,294.0 477.5,294.5 476.1,295.3 474.6,295.7 473.2,296.0 471.7,296.1 470.2,294.8 468.7,294.9 467.3,295.2 465.9,296.5 464.4,295.9 463.0,295.8 461.7,296.8 460.2,295.6 458.8,296.2 457.4,296.1 456.0,296.5 454.7,297.0 453.2,296.4 451.8,296.3 450.5,297.7 449.1,297.5 447.7,297.1 446.3,297.7 444.8,297.4 443.3,298.0 441.9,297.9 440.3,297.0 438.9,298.3 437.4,298.5 435.9,297.7 434.5,298.5 432.9,297.4 431.5,298.5 430.0,298.2 431.4,299.1 433.0,298.2 434.4,299.2 435.9,299.1 437.4,299.2 438.9,298.4 440.4,298.4 441.9,298.3 443.4,298.7 444.8,299.7 446.3,299.5 447.9,299.0 449.2,299.6 450.5,300.5 452.1,300.1 453.4,300.7 454.9,300.8 456.1,301.9 457.7,301.2 459.0,302.2 459.3,303.7 460.8,304.0 462.2,304.3 463.7,304.7 465.2,304.5 466.6,304.6 468.0,305.6 469.4,305.6 470.9,305.6 472.5,304.3 473.9,305.5 475.3,306.3 476.8,305.9 478.2,305.8 479.7,306.2 481.2,305.5 482.6,306.2 481.2,305.9 479.8,305.9 478.4,307.2 477.0,306.5 475.6,306.5 474.2,307.0 472.8,306.5 471.4,306.1 470.0,306.2 468.6,307.4 467.2,307.8 465.8,306.6 464.4,307.3 462.9,307.2 461.5,306.8 460.0,306.8 458.6,308.0 457.1,307.5 455.7,308.0 454.2,307.2 452.8,307.5 451.4,308.4 449.9,307.9 448.4,307.8 447.0,308.6 445.6,308.7 444.1,308.3 442.7,309.0 441.2,308.3 439.7,307.6 438.3,307.9 436.9,309.3 435.4,308.6 436.7,309.4 438.1,309.4 439.4,309.6 441.0,308.7 442.1,310.2 443.7,309.4 444.8,310.7 446.3,310.4 445.4,311.2 444.2,311.7 443.3,312.5 441.7,312.0 440.9,313.1 442.4,312.8 443.7,314.1 445.2,313.7 446.7,313.2 448.1,314.0 446.7,313.9 445.3,314.4 444.0,315.5 442.4,314.3 441.2,315.4 439.9,316.1 438.3,315.0 436.9,315.3 435.6,316.1 434.3,316.6 432.8,316.2 431.4,316.3 430.0,316.7 431.4,317.2 432.8,317.0 434.3,317.2 435.6,317.6 437.2,316.8 438.6,316.9 440.0,317.6 441.3,318.2 442.7,318.5 444.2,318.7 445.6,318.1 447.0,318.7 448.5,317.8 449.9,318.6 451.2,318.7 452.7,318.3 453.7,320.0 454.9,320.5 456.3,320.2 457.6,320.6 459.0,320.4 457.6,320.9 456.1,320.5 454.9,322.0 453.4,321.8 452.0,322.2 450.4,321.6 449.2,323.1 447.8,323.4 446.3,323.1 445.3,324.1 443.7,323.1 442.7,324.3 441.3,323.6 440.3,324.9 439.0,324.9 440.0,325.9 441.6,325.3 442.4,326.9 443.6,327.5 444.8,327.8 446.3,327.6 444.9,327.5 443.6,327.4 442.3,327.6 440.9,327.8 439.9,329.3 438.4,328.5 437.2,329.4 438.5,330.1 440.0,329.6 441.4,329.5 442.5,331.0 444.0,330.5 445.4,330.9 446.6,331.7 448.1,331.2 449.6,331.1 450.8,332.1 452.2,332.0 453.6,332.2 454.9,332.8 455.6,334.0 455.3,335.2 454.9,336.5 456.1,337.7 455.0,339.0 455.6,340.2 454.8,341.4 454.9,342.7 455.2,344.2 454.1,345.2 454.4,346.7 454.2,348.0 452.8,349.0 453.1,350.4 453.3,351.7 453.4,353.1 451.8,354.1 451.4,355.3 452.4,356.8 451.8,358.0 451.5,359.3 450.9,360.5 450.1,361.7 450.9,363.4 449.4,364.3 449.2,365.7 450.4,366.4 450.2,368.2 451.7,368.6 451.7,370.2 453.1,370.7 453.4,372.1 453.2,373.6 454.4,375.0 454.3,376.5 454.3,377.9 454.4,379.4 454.3,380.9 455.1,382.3 454.8,383.8 455.6,385.2 454.9,386.7 454.4,388.3 454.8,389.7 455.6,391.1 455.6,392.6 455.1,394.1 455.7,395.5 456.1,396.9 456.6,398.3 457.5,399.7 456.9,401.2 456.4,402.7 456.6,404.1 457.0,405.5 457.4,406.9 457.3,408.4 457.3,409.8 457.5,411.3 458.0,412.6 459.6,413.9 458.9,415.4 458.3,416.9 459.1,418.2 459.5,419.6 459.7,421.0 460.2,422.4 460.8,423.8 459.9,425.3 460.1,426.7 461.2,428.0 459.9,429.6 460.8,430.9 460.2,432.4 460.4,433.9 461.2,435.2 461.6,436.7 461.6,438.1 461.9,439.5 461.0,441.1 461.2,442.5 462.1,443.9 461.6,445.4 462.4,446.7 462.7,448.2 462.5,449.6 463.4,450.9 463.8,452.3 462.6,454.0 464.0,455.2 464.2,456.6 464.0,458.1 464.7,459.2 466.1,459.9 466.2,461.4 467.5,462.2 467.2,463.9 469.1,464.3 468.7,466.1 469.9,466.9" stroke="#000000" class="d"/>
<polyline points="322.0,286.0 394.8,286.5 407.9,287.3 409.3,287.6 410.9,286.7 412.3,287.2 413.7,287.3 415.1,288.2 416.6,288.2 418.0,288.6 419.6,287.4 421.0,288.1 422.5,287.5 423.9,288.0 425.3,288.5 426.8,287.8 428.3,288.2 429.7,289.0 431.1,289.0 432.6,289.0 434.1,289.3 435.0,290.5 436.1,291.5 437.9,291.0 438.5,292.8 440.0,293.1 438.6,292.6 437.0,293.0 435.5,293.2 434.2,291.7 432.6,292.3 431.2,292.6 429.7,293.1 428.3,293.1 426.8,292.0 425.3,292.5 423.9,292.2 422.4,292.4 421.0,292.8 419.5,292.1 418.1,293.2 416.6,293.0 415.2,293.1 413.7,292.8 412.4,293.3 411.0,293.2 409.7,293.9 408.2,293.9 407.0,295.1 405.6,295.1 404.2,295.2 402.9,295.7 401.4,295.7 400.0,295.5 398.5,296.2 397.0,296.1 395.5,295.6 394.0,296.1 392.5,296.2 391.1,296.6 389.6,296.6 388.0,295.6 386.5,296.2 385.0,296.3 383.6,297.1 382.0,296.3 380.6,297.3 379.1,297.1 377.5,296.2 376.1,296.9 374.6,297.1 373.1,297.0 371.6,297.4 373.0,298.0 374.5,298.0 376.0,297.1 377.4,296.9 378.9,297.4 380.3,297.4 381.8,297.3 383.2,298.6 384.6,298.5 386.1,297.7 387.5,298.3 389.0,298.1 390.4,297.7 392.0,298.3 393.3,297.4 394.7,296.9 396.2,296.6 397.7,296.9 399.1,296.3 400.6,296.6 402.1,296.8 403.5,296.0 404.9,295.7 406.4,295.3 407.9,296.3 409.3,295.4 410.7,294.6 412.1,294.4 413.6,294.3 415.1,295.0 416.6,295.1 418.0,294.5 419.4,294.6 421.0,294.2 422.3,295.0 423.6,296.1 425.1,295.6 426.5,296.5 428.0,296.0 426.5,295.7 425.4,297.2 423.8,296.3 422.4,296.6 421.1,297.1 419.8,297.8 418.3,297.4 417.0,298.5 415.6,298.2 414.2,298.4 412.6,297.8 411.3,298.2 410.0,299.0 408.7,299.7 407.2,299.7 405.9,300.5 404.2,299.7 402.9,300.1 401.7,301.3 400.1,301.1 398.8,301.5 397.5,302.5 395.9,301.9 394.6,302.6 393.1,302.6 391.8,303.3 390.6,304.4 389.0,304.0 390.4,303.6 391.9,303.1 393.4,304.4 394.8,304.3 396.3,304.1 397.7,303.2 399.1,302.7 400.6,304.0 402.1,304.0 403.5,303.2 404.9,302.5 406.4,303.1 407.8,302.4 409.3,303.4 410.8,303.4 412.2,302.3 413.7,302.9 415.2,302.9 416.6,302.4 418.1,303.4 419.5,302.6 421.0,302.2 422.4,302.7 423.9,303.0 425.3,302.1 426.8,302.5 425.6,303.3 423.9,302.9 422.8,304.0 421.7,304.9 420.3,305.3 419.3,306.5 418.0,306.9 416.6,307.3 415.2,307.6 413.7,307.4 412.2,307.9 410.8,307.8 409.3,307.9 407.9,307.0 406.4,307.5 405.0,306.3 403.5,306.9 404.5,308.1 406.4,307.7 407.6,308.7 408.6,310.0 410.0,310.5 408.7,311.3 407.4,311.7 405.7,310.8 404.4,311.7 403.0,312.2 401.5,312.0 400.1,312.3 399.0,313.6 397.6,314.1 396.1,313.9 394.7,314.3 393.3,314.5 391.9,314.8 393.4,315.0 394.8,314.7 396.3,315.0 397.6,313.5 399.1,313.8 400.6,313.5 402.1,314.1 403.5,313.4 404.9,312.8 406.3,312.6 407.8,312.9 409.3,312.7 410.7,312.3 412.2,312.1 413.7,313.0 415.1,312.1 416.6,312.6 418.0,311.9 416.6,312.3 415.5,313.5 413.7,312.6 412.4,313.3 411.0,313.6 409.6,314.2 408.3,314.8 407.4,316.3 405.8,316.3 404.6,317.2 403.2,317.4 402.0,318.4 400.5,318.4 398.8,318.0 397.7,319.2 398.7,320.1 398.8,321.6 399.9,322.4 400.6,323.5 402.1,323.5 403.4,324.5 404.9,324.8 406.4,324.2 407.8,324.6 409.4,323.9 410.8,324.3 412.2,325.5 413.7,325.0 415.2,325.1 416.6,325.6 418.2,324.7 419.5,325.7 421.0,325.7 419.5,325.9 418.0,325.5 416.7,326.8 415.1,325.7 413.8,327.3 412.3,327.3 410.8,326.8 409.3,326.9 407.9,327.8 406.5,328.1 404.9,327.1 403.5,327.9 404.9,327.8 406.1,328.7 407.4,329.1 408.7,329.1 410.0,329.6 411.3,329.9 412.4,330.8 414.0,330.0 415.2,330.8 416.0,332.1 417.6,332.6 418.4,333.8 419.1,335.2 420.6,335.8 421.6,336.9 422.4,338.1 422.6,339.6 424.2,340.6 424.2,342.2 424.0,343.9 424.6,345.2 426.6,346.0 426.9,347.5 427.5,348.9 427.7,350.4 428.1,351.9 429.0,353.0 429.9,354.0 431.5,354.6 432.6,355.5 432.7,357.3 434.0,358.0 434.7,359.3 435.7,360.3 436.1,361.8 437.5,362.6 439.2,363.0 439.1,364.9 440.4,365.7 441.6,366.4 442.1,367.8 442.8,369.0 444.2,369.5 443.8,370.9 443.0,372.0 442.1,373.0 440.7,373.6 440.2,375.0 439.1,375.8 440.0,376.9 440.9,378.1 442.5,378.5 443.0,380.0 444.2,380.9 445.0,382.0 445.1,383.4 444.8,384.9 445.3,386.1 446.9,387.0 446.7,388.5 447.1,389.7 447.7,391.0 448.4,392.1 447.5,393.7 448.0,394.9 448.9,396.1 448.5,397.5 449.2,398.7 449.9,399.8 450.8,400.8 452.0,401.5 452.7,402.7 452.3,404.5 453.0,405.6 454.3,406.3 455.0,407.4 455.4,408.8 456.5,409.6 457.8,410.3 458.6,411.4 458.9,412.8 459.6,414.1 459.0,415.7 459.6,417.0 459.8,418.4 460.2,419.7 461.6,420.8 461.9,422.1 462.5,423.4 461.8,425.1 462.1,426.5 463.2,427.6 463.4,429.0" stroke="#50f0a8" class="d"/>
<polyline points="322.0,285.9 341.6,287.0 343.0,286.2 344.2,287.5 345.6,286.6 346.9,287.2 348.2,287.7 349.5,288.0 350.8,287.4 352.1,287.6 353.5,286.8 354.7,287.6 356.1,287.6 357.3,288.5 358.7,288.0 360.0,288.0 361.2,288.9 362.7,288.8 364.1,288.8 365.1,290.5 366.4,290.9 368.0,290.6 369.5,290.6 370.5,291.7 371.9,292.2 373.0,293.1 374.5,293.1 375.8,293.5 377.1,293.6 378.4,294.0 379.8,293.9 381.3,293.6 382.6,293.9 383.6,295.7 384.9,295.8 386.4,295.1 387.5,296.4 389.0,296.0 390.4,296.1 391.8,295.4 393.1,296.8 394.5,296.3 395.9,297.0 397.3,296.5 398.7,295.5 400.0,296.5 401.4,296.8 402.8,297.1 404.2,296.1 405.5,296.5 406.9,296.8 408.3,295.9 409.7,297.2 411.0,297.1 412.5,295.8 413.8,296.8 415.2,296.7 413.8,297.0 412.5,297.4 411.1,296.7 409.6,296.2 408.3,297.0 407.0,297.8 405.5,297.2 404.1,296.8 402.7,296.5 401.4,297.1 400.1,298.3 398.6,296.7 397.3,297.5 395.9,298.5 394.6,298.5 393.2,298.6 391.7,297.7 390.4,298.6 389.0,298.1 387.6,297.7 386.4,299.0 385.0,298.4 383.7,298.7 382.4,299.5 381.0,299.7 379.6,298.2 378.2,298.2 377.0,299.8 375.6,298.8 374.2,298.5 372.9,298.8 371.6,299.6 370.2,299.2 369.1,300.4 367.7,299.9 366.4,300.6 365.0,300.0 363.8,300.7 362.5,300.7 361.2,300.9 360.0,301.8 361.3,301.7 362.6,302.3 363.9,301.3 365.2,301.6 366.4,303.0 367.7,302.1 369.0,302.7 370.3,302.6 371.6,302.5 373.0,302.7 373.9,303.8 374.7,304.9 376.4,304.5 377.4,305.4 378.8,305.2 380.1,305.1 381.5,305.2 382.7,306.5 384.0,306.4 385.4,306.1 383.8,305.7 382.7,306.7 381.2,306.6 380.4,308.3 378.9,308.3 378.0,309.4 376.8,309.9 375.5,310.2 373.9,309.8 373.1,311.2 372.1,312.2 370.7,312.5 369.8,313.7 368.6,314.4 367.0,314.1 365.8,314.8 366.2,316.1 366.9,317.1 366.9,318.6 367.5,319.7 368.7,320.6 368.8,322.1 370.1,322.6 370.9,323.5 370.9,325.0 370.7,326.4 369.1,327.3 369.7,329.0 368.7,330.1 370.0,329.3 371.2,330.6 372.6,329.7 373.8,330.7 375.1,330.0 376.4,330.5 377.7,329.8 378.9,330.8 377.7,331.3 376.5,331.7 375.3,332.2 374.1,332.7 372.7,332.2 371.4,332.3 370.2,333.0 371.5,333.3 372.6,333.8 373.1,335.2 373.9,336.3 373.5,337.7 374.5,338.7 374.5,340.0 375.3,341.1 377.0,341.2 377.3,342.9 379.0,343.0 379.9,344.0 380.6,345.3 381.1,346.6 382.3,347.4 383.0,348.7 384.3,349.3 384.6,350.8 385.7,351.7 387.0,352.3 387.9,353.4 389.0,354.2 389.5,355.7 390.8,356.3 392.1,356.8 392.8,357.9 393.1,359.2 394.2,359.9 394.8,361.0 395.9,361.8" stroke="#0028ff" class="d"/>
<polyline points="44.0,579.0 86.0,551.0" stroke="#000000" class="k"/>
<polyline points="90.2,740.7 101.8,725.5 113.4,709.5 125.0,693.5 138.1,679.0 148.2,668.9 160.0,659.4 185.0,637.5 211.2,615.1 233.6,599.4" stroke="#000000" class="k"/>
<polyline points="162.9,740.7 180.3,721.9 196.0,706.0 210.1,693.5 233.6,674.7" stroke="#000000" class="k"/>
<polyline points="170.9,740.7 189.0,728.4 210.8,713.9 233.6,700.5" stroke="#000000" class="k"/>
<polyline points="184.0,740.7 203.5,731.3 233.6,716.1" stroke="#000000" class="k"/>
<polyline points="44.0,598.5 233.6,598.5" stroke="#000000" class="k"/>
<polyline points="44.0,693.5 210.1,693.5" stroke="#000000" class="k"/>
<polyline points="322.0,579.0 364.0,551.0" stroke="#000000" class="k"/>
<polyline points="368.2,740.7 379.8,725.5 391.4,709.5 403.0,693.5 416.1,679.0 426.2,668.9 438.0,659.4 463.0,637.5 489.2,615.1 511.8,599.4" stroke="#000000" class="k"/>
<polyline points="440.9,740.7 458.3,721.9 474.0,706.0 488.1,693.5 511.8,674.7" stroke="#000000" class="k"/>
<polyline points="448.9,740.7 467.0,728.4 488.8,713.9 511.8,700.5" stroke="#000000" class="k"/>
<polyline points="462.0,740.7 481.5,731.3 511.8,716.1" stroke="#000000" class="k"/>
<polyline points="322.0,598.5 511.8,598.5" stroke="#000000" class="k"/>
<polyline points="322.0,693.5 488.1,693.5" stroke="#000000" class="k"/>
<polyline points="43.8,650.4 45.6,649.7 47.4,649.1 49.3,648.7 50.9,647.6 52.7,647.0 54.6,646.4 56.2,645.3 58.1,644.9 59.8,643.9 61.5,643.0 63.2,642.2 64.5,640.6 66.3,639.8 67.8,638.6 69.8,638.2 71.4,637.1 72.8,635.6 74.9,635.4 76.3,634.0 78.0,633.2 79.1,631.9 80.5,630.7 81.5,629.2 82.8,628.0 84.5,627.3 85.6,625.8 87.2,625.0 88.5,623.7 89.9,622.6 91.2,621.3 92.9,620.6 94.4,619.5 95.9,618.5 97.6,618.0 99.0,616.8 100.5,616.0 102.0,615.0 103.5,614.1 105.4,613.5 107.1,612.5 108.9,611.6 111.0,611.5 112.8,610.7 114.4,609.5 116.1,609.0 117.7,608.1 119.1,607.0 120.6,606.1 122.2,605.4 123.7,604.4 125.6,604.2 127.1,603.2 128.6,602.2 130.4,601.7 131.8,600.3 133.7,599.9 135.0,598.6 136.8,598.2 138.1,596.7 140.0,596.5 141.5,595.3 143.5,595.1 144.9,593.8 146.8,593.3 148.1,591.9 149.8,591.1 151.1,589.8 153.0,589.4 154.6,588.7 155.9,587.4 157.3,586.3 159.0,585.6 160.9,585.3 162.2,584.0 164.1,583.4 165.7,582.0 167.6,581.3 169.3,580.4 171.1,579.5 173.2,579.4 174.8,578.0 176.8,577.6 178.6,576.7 180.4,575.9 182.1,574.9 184.1,574.7 185.7,573.5 187.7,573.3 189.3,572.1 191.2,571.7 193.0,570.8 194.9,570.4 196.7,569.7 198.7,569.8 200.4,569.1 202.1,568.2 204.1,568.2 205.7,567.0 207.6,566.8 209.4,566.6 211.3,566.9 213.1,566.6 214.9,566.3 215.7,567.8 215.8,569.5 214.3,570.0 213.5,571.5 212.1,572.2 213.9,571.7 215.8,572.0 217.6,571.4 219.4,571.3 220.0,573.1 220.3,575.0 220.5,576.9 220.3,578.7 219.5,580.4 219.4,582.2 219.0,583.7 218.0,584.9 217.5,586.4 216.7,587.7 215.8,589.1 214.5,590.1 213.9,591.8 213.0,593.1 212.2,594.5 211.2,595.9 211.1,597.6 210.4,599.1 209.4,600.4 208.2,601.5 207.3,602.9 206.9,604.6 205.8,605.8 204.9,607.4 203.3,608.5 202.0,609.8 201.4,611.7 200.0,612.9 198.5,614.2 197.5,615.7 196.6,617.4 195.7,619.0 194.5,620.5 194.3,622.2 193.8,623.8 192.4,625.1 192.5,626.9 191.6,628.3 191.2,630.0 190.7,631.5 189.5,632.7 189.0,634.3 188.5,635.9 187.6,637.2 187.4,639.1 186.3,640.8 186.4,642.8 185.7,644.6 184.9,646.3 184.7,648.1 184.2,649.9 184.2,651.7 184.4,653.6 184.0,655.4 183.2,657.1 183.6,659.1 183.4,660.9 182.8,662.6 182.2,664.4 182.0,666.3 182.0,668.2 181.3,670.0 181.3,672.0 180.7,673.8 180.1,675.7 180.2,677.7 179.5,679.5 179.4,681.3 178.6,683.1 178.3,684.9 178.4,686.7 178.1,688.5 178.0,690.4 178.2,692.2 177.6,694.0 178.1,695.8 178.1,697.6 177.2,699.5 177.4,701.3 177.1,703.1 178.1,705.0 177.5,706.8 177.6,708.6 177.8,710.4 177.7,712.2 178.3,714.0 177.8,715.8 178.9,717.6 178.6,719.4 178.7,721.2 178.7,723.1 178.7,724.9 179.1,726.7 179.5,728.5 180.0,730.0 180.6,731.4 181.2,732.8 182.2,734.0 183.7,734.6 185.0,735.6 186.3,736.5 187.8,737.2 189.4,737.6" stroke="#ff0000" class="d"/>
<polyline points="43.8,633.1 47.3,629.5 58.1,625.9 76.3,619.5 94.4,613.1 109.0,608.6 118.0,605.9 140.0,600.4 153.1,595.8 171.3,590.4 187.6,586.8 182.2,591.3 183.6,593.0 179.2,596.5 177.0,602.0 184.7,599.8 193.4,598.7 191.2,603.1 193.4,604.7 190.1,609.6 187.9,617.2 187.1,618.5 185.9,619.7 185.0,621.0 185.1,622.9 183.6,623.8 183.8,625.5 182.5,626.4 182.0,627.7 180.4,628.5 180.3,630.0 179.9,631.6 180.1,633.1 180.2,634.7 180.0,636.2 181.1,637.8 180.5,639.3 180.4,640.9 180.6,642.5 178.7,643.3 179.8,645.2 177.9,646.1 178.9,647.9 177.3,648.9 177.5,650.5 176.7,651.7 176.8,653.3 175.8,654.8 177.3,656.5 177.1,658.0 175.2,659.4 175.9,661.0 175.8,662.6 176.1,664.1 174.9,665.0 173.8,666.3 173.7,667.8 175.1,669.4 174.3,670.8 174.7,672.3 174.2,673.7 173.4,675.1 174.1,676.7 172.9,678.0 173.1,679.5 173.9,681.2 173.5,682.7 172.1,684.2 172.8,685.9 172.7,687.4 172.2,689.0 172.4,690.6 172.2,692.2 172.6,693.7 173.4,695.1 172.2,696.8 171.9,698.4 172.0,699.9 173.1,701.3 172.9,702.9 173.6,704.4 173.8,705.9 173.2,707.6 173.4,709.1 174.6,710.6 174.0,712.2 175.1,713.3 175.6,714.7 176.0,716.1 176.1,717.7 177.3,718.7 178.8,719.6 178.6,721.3 178.1,722.8 179.1,724.2 179.1,725.6 179.9,727.0 179.5,728.5 179.9,729.9 180.2,731.2 179.6,732.7 180.4,734.0 182.1,734.0 183.1,735.4 184.7,735.4 185.8,736.7" stroke="#000000" class="d"/>
<polyline points="43.8,637.6 58.1,633.1 76.3,627.7 94.4,621.3 112.6,615.9 130.7,610.4 140.0,609.1 175.9,599.8 161.8,617.2 157.4,622.1 158.8,621.4 160.5,621.9 162.0,621.6 163.6,621.6 164.9,620.1 166.5,619.9 168.0,619.5 169.5,619.3 171.2,619.9 172.5,618.6 174.2,619.0 175.6,618.2 177.2,618.0 178.8,618.0 180.3,617.8 179.1,618.9 178.9,620.4 179.3,622.2 178.3,623.4 177.9,624.8 176.1,625.7 175.6,627.1 175.0,628.4 174.9,630.0 173.8,630.9 173.3,632.2 172.4,633.2 172.0,634.6 172.3,636.2 171.3,637.2 171.5,638.6 172.8,639.4 173.1,640.8 174.1,641.7 174.9,642.7 174.5,644.0 174.1,645.4 173.5,646.6 173.2,648.0 173.0,649.4 171.3,650.2 171.3,651.7 170.2,652.9 169.4,654.1 169.3,655.7 169.0,657.1 168.1,658.3 168.5,660.1 167.1,661.1 166.8,662.6 168.1,663.3 169.5,663.7 170.4,665.0 170.5,666.5 169.5,667.7 169.5,669.2 168.7,670.5 168.0,671.8 167.9,673.2 167.9,674.7 166.8,675.9 166.7,677.5 167.1,679.1 166.9,680.7 166.9,682.3 166.5,683.9 166.9,685.5 165.7,687.0 165.9,688.6 165.5,690.2 166.9,691.4 166.7,692.9 166.8,694.5 168.7,695.4 168.9,696.9 168.2,698.6 168.5,700.1 169.5,701.3 170.1,702.7 171.6,703.6 171.9,705.1 172.0,706.8 172.8,708.2 173.7,709.4 174.9,710.4 176.0,711.6 175.5,713.5 176.9,714.5 177.0,716.2 178.6,717.2 177.8,719.2 179.0,720.4 179.4,721.8 180.4,723.1 181.3,724.3 181.1,725.9 181.6,727.2 182.0,728.6 182.9,729.8 182.7,731.4 183.8,732.5 184.0,734.0 185.3,734.4 186.5,734.9 187.1,736.4 188.7,736.3 189.4,737.6" stroke="#a400ff" class="d"/>
<polyline points="43.8,641.3 58.1,636.7 76.3,630.4 94.4,624.0 112.6,619.5 130.7,615.9 140.0,612.9 145.4,611.8 154.2,610.7 159.6,612.3 161.1,613.2 159.5,614.9 160.0,616.1 160.7,617.2 160.7,619.0 162.9,617.9 163.8,618.6 163.8,620.4 165.1,620.5 166.0,621.3 167.5,620.6 168.2,622.2 169.5,621.7 170.2,623.2 171.6,622.7 173.2,623.3 173.3,624.5 171.7,626.4 173.8,626.8 173.8,628.1 174.0,629.5 171.9,629.9 171.9,631.2 172.8,633.0 171.3,633.6 170.6,634.5 169.6,635.4 170.4,637.2 168.5,637.4 169.3,639.3 168.1,639.9 168.2,641.4 167.3,642.2 165.9,642.7 163.9,642.7 164.5,644.9 162.2,644.7 162.8,646.8 161.6,647.5 160.1,647.9 159.8,649.3 160.4,651.5 158.6,651.7 158.5,652.9 158.6,654.1 160.3,654.9 160.8,656.0 158.5,657.6 159.9,658.5 161.1,659.5 160.4,660.8 159.8,661.7 159.7,663.0 157.6,662.7 157.7,664.2 157.0,665.0 158.7,665.3 157.5,667.6 159.0,668.0 159.4,669.7 158.3,670.4 158.3,671.9 155.7,671.6 156.7,673.8 155.0,674.1 155.7,675.1 157.5,675.3 157.3,677.0 158.0,678.0 157.2,678.9 157.4,680.0 157.4,681.1 157.1,682.1 156.8,683.1 157.8,683.9 158.2,685.2 160.2,685.2 160.0,687.0 160.4,688.1 161.5,689.1 160.0,690.9 160.1,692.1 163.2,692.4 162.2,694.0 163.8,694.2 163.1,696.2 164.1,696.9 166.2,696.7 165.1,699.0 165.2,700.3 167.2,700.2 167.7,701.3 168.9,702.1 169.1,703.5 168.9,705.3 171.4,705.0 172.1,706.1 173.1,707.0 173.1,708.6 173.4,709.8 174.4,710.5 175.6,711.2 175.9,712.4 177.4,712.8 177.3,714.3 176.1,716.4 177.8,716.7 178.6,717.6 179.7,718.6 178.1,720.5 180.2,721.1 181.0,722.2 182.0,723.2 182.1,724.5 182.3,725.8 182.6,727.0 182.2,728.5 182.0,730.3 184.3,730.1 185.2,731.2 185.0,732.9 185.0,734.5 187.4,734.4 187.6,735.8 188.6,736.9 190.1,736.0 191.2,736.9 192.4,737.3 193.3,738.7 194.7,738.4 196.1,737.9 197.0,739.3 198.5,738.5" stroke="#0028ff" class="d"/>
<polyline points="43.8,648.5 58.1,642.2 76.3,633.1 94.4,625.0 112.6,619.5 130.7,613.1 140.0,611.8 146.5,610.2 150.9,610.7 150.3,615.1 149.9,616.7 152.5,616.7 152.0,618.3 151.7,619.5 153.3,620.3 151.7,621.9 153.1,622.7 154.4,623.9 152.5,625.4 153.1,626.6 152.8,628.0 152.6,629.3 154.6,630.4 154.1,631.8 154.4,633.2 153.4,634.5 154.2,635.9 154.2,637.3 154.1,638.7 152.5,639.9 152.3,641.3 153.1,642.7 151.9,643.6 152.6,645.4 150.5,645.9 150.8,647.6 150.9,649.1 149.7,650.0 149.8,651.5 149.9,652.9 150.7,654.4 149.5,655.8 149.7,657.3 149.3,658.7 148.1,659.6 146.6,660.4 146.5,661.9 146.2,663.4 145.3,664.5 144.7,666.1 144.6,667.6 146.1,668.8 145.2,670.5 147.7,671.6 146.8,673.2 146.9,674.8 146.2,676.0 144.0,676.5 143.9,678.0 143.2,679.2 143.5,680.9 142.4,681.9 142.5,683.4 141.7,684.9 143.7,686.2 143.7,687.7 144.0,689.1 143.1,690.6 143.1,692.1 142.4,693.6 143.3,695.0 143.8,696.4 143.7,697.9 143.9,699.3 145.5,698.9 146.5,701.1 148.3,700.1 149.9,700.2 151.3,700.7 152.6,701.5 153.4,702.8 155.2,702.4 155.7,704.3 157.6,703.8 158.7,704.6 160.3,704.5 160.5,706.9 162.2,706.7 162.8,708.1 164.3,708.2 165.9,708.3 166.4,709.8 167.6,710.4 168.0,712.1 169.5,712.2 169.7,713.8 170.9,714.4 172.6,714.5 173.9,715.0 173.3,717.4 174.9,717.6 175.1,719.3 177.3,718.9 177.7,720.4 178.6,721.2 179.5,722.2 180.7,723.5 182.2,721.4 183.5,721.5 184.6,723.5 185.9,723.0 187.2,722.9 188.5,723.1 187.4,723.9 187.2,725.2 186.5,726.1 186.9,727.7 185.8,728.5 185.7,730.3 184.9,731.5 183.4,732.2 182.2,733.1" stroke="#00ff00" class="d"/>
<polyline points="363.7,625.3 369.5,621.0 378.2,616.3 395.0,608.5 410.0,601.3 429.5,591.8 440.0,585.5 450.0,579.4 461.8,573.1 472.7,569.3 479.0,567.2 486.2,565.6 491.7,566.2 493.5,569.1 492.6,570.6 490.9,571.3 489.9,572.7 491.3,572.4 492.6,571.8 493.8,571.0 495.3,570.9 496.3,572.1 497.5,573.0 498.9,573.6 498.9,575.1 498.9,576.5 499.2,578.0 499.5,579.4 498.9,580.9 498.3,582.4 497.4,583.7 497.2,585.5 495.7,586.5 495.3,588.1 494.7,589.7 493.8,591.0 493.1,592.5 491.7,593.6 490.4,594.8 490.0,596.3 489.1,597.7 488.6,599.3 488.0,600.8 487.5,602.3 486.2,603.2 485.1,604.3 484.5,605.7 482.8,606.2 482.2,607.7 481.4,609.1 480.7,610.5 479.1,611.3 478.9,613.0 477.2,613.8 476.8,615.4 475.8,616.6 474.5,617.8 473.4,619.3 472.0,620.4 471.4,621.9 471.1,623.5 470.6,625.1 469.1,626.2 469.1,627.9 468.2,629.3 467.5,630.8 467.8,632.6 466.6,634.0 466.3,635.6 466.4,637.3 466.4,638.8 466.6,640.2 467.2,641.6 466.1,642.7 465.0,643.7 464.5,645.4 463.1,646.3 462.1,647.4 461.8,649.2 462.7,650.9 462.0,652.7 462.2,654.4 462.8,656.1 462.6,657.8 462.3,659.4 461.9,661.1 461.7,662.8 460.6,664.3 461.0,666.1 460.6,667.7 460.7,669.6 460.2,671.3 459.1,672.9 458.3,674.5 458.5,676.4 458.1,677.9 457.8,679.3 457.3,680.8 456.7,682.2 457.0,683.8 456.3,685.2 455.8,686.6 455.5,688.1 455.0,689.5 454.8,691.0 455.1,692.5 455.1,694.0 454.9,695.5 454.2,697.0 454.8,698.5 454.6,700.0 454.5,701.6 454.8,703.2 455.0,704.9 455.0,706.5 454.1,708.1 454.4,709.7 454.2,711.3 454.9,712.9 454.7,714.6 454.9,716.2 454.8,717.8 454.9,719.4 455.7,721.0 455.1,722.6 455.9,724.2 455.9,725.8 456.9,727.1 457.1,728.7 458.1,730.0 459.3,731.2 460.5,732.2 461.8,733.3 462.4,735.0 463.9,735.8 465.6,735.6 467.3,735.8 468.9,736.9 470.6,737.1 472.3,736.9 474.0,737.2" stroke="#ff0000" class="d"/>
<polyline points="321.8,651.5 355.0,632.9 366.6,626.1 376.8,619.5 386.9,615.5 385.5,614.8 379.0,615.2 395.0,607.2 410.0,600.0 429.5,590.6 440.0,584.2 461.8,574.7 472.7,570.9 485.8,566.5 475.9,572.0 466.1,579.6 459.6,586.1 467.2,583.4 481.4,576.9 475.0,580.5 449.8,598.7 430.1,615.3 430.8,614.6 432.2,615.5 432.6,614.1 434.0,614.6 434.7,612.6 436.4,613.8 437.3,612.9 438.0,611.0 439.9,612.9 440.4,610.8 441.6,610.5 442.9,610.4 444.1,610.2 445.3,609.9 445.8,608.3 447.5,609.1 448.7,608.9 449.4,607.6 450.4,607.1 451.8,607.3 452.6,606.3 453.8,606.3 454.1,604.3 455.5,604.5 456.8,604.1 458.1,604.4 459.3,603.5 460.6,604.5 460.7,606.1 462.1,606.0 463.1,606.4 462.6,607.9 461.0,607.2 460.1,608.2 459.4,609.2 458.0,609.0 459.4,608.2 460.6,609.1 461.9,608.2 463.1,609.6 464.4,609.6 463.5,610.3 463.3,611.8 461.2,611.1 461.8,613.5 460.7,614.0 459.3,614.1 460.6,614.9 461.9,613.4 463.1,613.9 464.4,614.3 465.7,614.1 474.6,609.0 482.2,605.2 477.1,610.2 463.1,620.4 461.9,620.9 460.7,621.4 460.4,623.0 458.6,622.7 458.3,624.5 456.8,624.6 456.4,626.1 454.7,626.0 454.3,627.5 452.8,627.5 451.7,628.2 450.7,628.9 449.9,630.0 448.9,630.8 447.5,630.9 446.3,631.5 446.1,633.3 444.7,633.5 443.2,633.6 442.4,634.6 441.6,635.7 440.7,636.6 439.0,636.4 438.8,638.3 437.1,638.1 436.3,639.1 437.6,639.4 438.7,638.1 440.0,638.1 441.2,637.8 442.5,637.9 443.7,637.4 445.1,638.0 446.3,637.8 447.4,636.6 448.8,637.3 449.9,636.4 449.0,637.6 447.8,638.1 446.3,637.8 445.0,638.1 443.8,638.6 442.5,638.9 441.4,639.7 440.6,641.1 439.1,640.9 438.1,641.8 439.3,642.5 440.4,641.1 441.6,641.8 442.8,641.2 444.0,641.2 445.1,641.8 446.3,641.8 445.0,642.0 443.6,642.0 442.9,643.7 441.5,643.6 440.0,643.3 439.1,644.5 440.3,644.9 441.6,644.6 442.8,644.1 444.1,644.7 445.3,644.1 446.5,644.7 447.8,644.7 449.0,644.5 442.7,647.2 447.2,648.1 430.9,664.5 457.2,649.5 455.6,649.3 454.5,649.9 453.5,650.7 453.7,653.1 451.9,652.7 451.1,653.7 449.9,654.2 449.4,655.7 448.3,656.3 446.9,656.4 446.2,657.6 444.8,657.7 444.4,659.4 442.7,659.0 443.6,657.6 445.3,658.7 446.3,657.6 447.6,657.5 449.0,657.7 450.0,656.3 451.0,655.2 452.7,656.6 453.8,655.7 455.1,655.5 456.3,655.1 457.8,655.5 458.6,653.6 459.9,653.6 458.7,654.2 458.9,655.7 457.8,656.4 457.0,657.3 457.1,658.8 456.9,660.1 455.4,660.5 454.2,661.1 453.9,662.3 453.4,663.4 452.7,664.5 451.5,665.1 451.6,666.8 450.8,667.8 449.7,668.5 447.9,668.7 448.3,670.7 447.7,671.8 446.1,672.1 446.2,673.8 445.6,674.9 444.4,675.7 443.2,676.4 443.4,677.6 443.2,678.9 444.7,679.6 444.7,680.8 444.1,681.9 443.3,682.9 442.4,683.8 440.7,683.8 440.3,685.2 441.4,684.9 442.3,683.9 443.2,683.1 444.9,684.4 445.9,683.8 447.1,683.8 447.7,681.9 449.0,682.2 447.6,682.4 447.4,684.1 446.5,684.9 444.7,684.6 444.4,686.2 443.2,686.6 444.5,686.3 445.6,687.3 446.9,687.1 448.0,688.1 449.4,687.5 450.5,688.1 451.4,689.1 452.7,688.6 453.7,689.3 454.8,689.5 454.3,690.8 454.7,692.0 454.4,693.2 454.7,694.4 455.7,695.6 454.6,696.9 455.2,698.1 454.9,699.4 455.1,700.7 455.1,702.0 454.0,703.2 454.3,704.5 453.6,705.8 453.7,707.1 453.2,708.3 453.7,709.7 453.7,710.9 453.7,712.1 454.0,713.2 454.6,714.3 454.4,715.5 453.1,715.7 452.8,717.2 451.5,717.4 450.8,718.4 451.2,719.7 452.4,720.3 453.8,720.6 454.0,722.2 455.2,722.7 455.5,723.9 456.6,724.7 457.3,725.7 457.3,727.1 457.3,728.3 458.1,729.4 456.9,730.7 457.6,731.8 457.6,733.0 457.9,734.2 457.6,735.4 457.3,736.6 458.2,737.7 458.2,738.9 458.1,740.1" stroke="#000000" class="d"/>
<polyline points="321.3,668.8 322.8,668.2 323.9,667.3 325.0,666.3 325.5,664.6 327.0,664.1 328.0,663.0 329.2,662.2 330.0,660.8 331.1,659.9 332.5,659.2 333.4,658.1 334.7,657.3 335.5,656.0 336.7,655.1 338.1,654.5 339.2,654.0 339.9,653.1 340.9,652.5 341.8,651.8 343.0,651.7 344.0,651.0 344.9,650.3 346.2,650.5 347.6,650.1 348.8,649.1 350.1,648.5 351.3,647.7 352.7,647.3 353.6,645.9 355.1,645.6 356.1,644.5 357.5,643.9 358.8,643.3 359.9,642.2 361.0,641.2 362.5,640.9 363.9,640.4 365.0,639.5 366.2,638.7 367.6,638.1 368.6,636.9 370.0,636.5 371.1,635.5 372.4,634.9 373.9,634.7 374.8,633.3 376.0,632.5 377.3,631.8 378.5,631.0 380.0,630.8 381.0,629.8 382.4,629.4 383.7,628.9 384.6,627.6 385.8,626.9 386.9,626.1 388.1,625.3 389.6,625.0 390.6,624.1 391.6,623.0 392.7,622.1 394.3,622.0 395.3,621.0 396.2,620.1 397.1,619.2 397.3,617.8 398.3,617.0 399.0,616.0 400.3,616.1 401.3,615.4 402.6,615.4 403.6,614.5 404.6,613.5 406.2,613.8 406.9,612.2 408.3,612.0 409.5,611.5 410.6,610.4 412.3,610.8 413.5,610.1 415.0,609.9 416.2,609.2 417.6,608.9 418.7,607.9 420.2,607.9 421.3,606.8 422.4,606.0 422.9,604.6 424.4,604.1 424.8,602.7 425.9,602.2 427.0,601.6 428.3,601.5 429.6,601.2 430.9,601.8 432.2,601.6 433.4,602.7 434.6,602.9 436.0,602.5 434.8,603.3 433.5,603.9 432.0,604.0 430.8,604.8 429.8,605.9 428.4,606.4 427.0,606.9 426.0,608.0 425.3,609.3 424.3,610.2 423.0,610.9 422.5,612.4 421.7,613.5 420.3,614.2 419.5,615.3 418.6,616.4 417.9,617.6 417.2,618.9 416.1,619.8 415.4,621.0 416.6,621.2 417.8,620.9 418.9,620.2 420.1,620.4 421.3,619.6 422.6,619.1 424.0,618.9 425.2,618.1 426.5,617.5 427.9,617.2 428.8,615.8 430.3,615.8 431.4,614.9 432.8,614.5 434.2,614.2 435.2,613.0 436.6,612.7 435.2,613.1 434.7,614.8 433.3,615.2 432.2,616.0 431.3,617.2 430.0,617.7 429.0,618.6 427.9,619.5 426.6,620.1 426.1,621.6 424.6,622.0 423.9,623.3 422.7,624.2 422.5,625.8 421.0,626.6 420.8,628.2 419.5,629.1 418.9,630.4 418.0,631.5 416.6,632.1 415.5,632.9 414.5,634.0 412.9,634.2 411.9,635.2 411.0,636.2 409.9,637.1 409.2,638.2 408.3,639.2 407.4,640.3 406.7,641.5 405.3,642.0 405.2,643.7 403.5,644.1 403.0,645.4 401.5,645.8 400.5,647.0 399.0,647.5 397.8,648.4 396.6,649.3 395.6,650.4 394.3,651.2 392.9,651.8 394.2,651.2 395.6,650.6 397.2,650.9 398.4,649.8 399.8,649.4 401.2,648.9 402.7,648.9 403.9,648.1 405.4,647.7 406.6,646.9 408.1,646.7 406.8,647.5 405.5,648.2 404.1,648.6 402.7,649.1 401.1,648.9 399.8,649.8 398.6,650.8 397.1,650.9 395.9,651.8 394.3,651.9 393.0,652.5 391.6,653.0 390.3,653.7 389.8,655.2 388.3,655.8 387.8,657.3 386.1,657.7 385.4,659.0 384.9,660.5 383.2,660.9 382.7,662.4 381.6,663.3 380.7,664.5 379.1,665.0 378.8,666.6 377.2,667.1 376.5,668.4 375.2,669.2 374.5,670.5 373.7,671.7 372.0,672.0 371.3,673.4 370.5,674.6 370.3,676.2 368.8,677.1 368.2,678.5 368.0,680.0 369.0,681.0 369.8,682.2 369.9,683.7 371.0,684.7 371.3,686.1 372.7,685.6 373.8,684.6 375.2,684.0 376.4,683.1 377.8,682.6 379.1,681.9 380.3,680.9 381.5,680.1 382.6,679.1 383.8,678.1 385.0,677.3 386.8,677.4 387.6,676.0 389.0,675.4 390.2,674.5 391.7,674.1 392.9,673.3 394.4,672.8 395.4,671.6 396.6,670.8 398.1,670.3 399.4,669.7 400.8,669.1 401.7,667.7 403.3,667.6 404.6,666.9 405.9,666.1 406.6,664.5 408.1,664.0 409.6,663.7 410.9,663.0 411.7,661.4 413.2,661.0 414.6,660.6 415.9,659.9 417.0,658.9 418.1,657.8 419.5,657.2 420.6,656.1 422.0,655.6 423.3,655.0 424.8,654.6 426.0,653.6 427.1,652.7 428.3,651.8 429.6,651.1 431.0,650.5 429.8,651.4 428.9,652.6 428.1,653.8 426.5,654.2 425.6,655.4 424.2,656.1 423.5,657.5 422.3,658.4 421.4,659.6 420.2,660.4 418.9,661.2 417.8,662.1 416.9,663.4 416.1,664.6 415.3,665.9 413.6,666.2 412.9,667.6 411.8,668.7 411.0,669.9 410.0,671.0 408.6,671.7 407.0,672.1 406.2,673.3 405.1,674.4 404.1,675.4 403.3,676.8 402.4,677.9 400.9,678.5 400.3,680.0 398.8,680.5 397.8,681.6 396.7,682.5 396.0,683.9 394.9,685.0 393.5,685.6 392.7,686.9 391.3,687.5 390.3,688.6 391.4,687.6 392.8,687.0 394.2,686.3 395.3,685.3 396.5,684.4 397.5,683.2 398.8,682.5 400.5,682.3 401.2,680.8 402.5,679.9 403.8,679.3 405.1,678.5 406.5,677.9 407.4,676.5 409.1,676.4 409.7,674.6 411.4,674.5 412.5,673.4 413.9,672.9 414.7,671.3 416.3,671.0 417.7,670.4 418.7,669.3 419.6,667.9 421.3,667.8 422.6,667.1 423.2,665.4 425.0,665.2 425.7,663.6 427.2,663.2 426.5,664.6 424.8,664.9 423.8,666.0 422.5,666.8 421.7,668.1 420.7,669.2 419.8,670.4 418.5,671.1 417.1,671.8 416.3,673.1 415.0,673.9 414.5,675.5 413.0,676.0 411.9,677.0 411.4,678.6 409.7,678.9 409.2,680.5 408.0,681.4 407.1,682.6 405.5,683.1 404.9,684.5 403.1,684.8 402.8,686.6 401.1,686.9 400.1,688.0 399.2,689.2 400.6,688.9 402.0,688.6 403.5,688.5 404.9,688.0 406.2,687.1 407.8,687.5 409.0,686.6 410.5,686.5 411.9,686.1 412.2,687.4 412.1,688.8 413.0,689.9 413.2,691.2 414.6,691.3 415.6,690.1 417.0,690.0 418.3,689.9 417.1,690.8 416.1,691.9 414.8,692.8 414.3,694.3 412.7,694.9 411.9,696.2 410.5,696.9 409.8,698.4 408.7,699.3 407.2,699.8 405.7,700.4 404.8,701.7 403.8,702.8 402.5,703.6 401.1,704.3 400.2,705.5 399.0,706.4 397.8,707.3 396.4,707.9 395.3,708.9 394.1,709.8 393.3,711.3 392.0,712.0 393.3,711.4 394.7,711.0 396.0,710.2 397.4,709.8 398.6,709.1 399.5,707.6 400.9,707.3 402.1,706.5 403.3,705.7 404.8,705.3 406.3,705.2 407.5,704.3 408.4,702.9 409.7,702.4 411.1,701.9 412.7,701.7 413.7,700.6 415.0,700.0 414.2,701.3 412.8,702.0 412.0,703.3 411.1,704.5 409.6,705.0 408.2,705.7 407.3,706.9 406.3,707.9 405.7,709.5 404.3,710.1 403.2,711.1 402.0,712.0 401.2,713.3 400.5,714.7 398.7,714.9 398.2,716.5 396.7,717.1 395.9,718.4 394.6,719.1 393.9,720.5 392.7,721.4 393.8,720.5 395.2,720.3 396.6,719.9 398.0,719.8 399.1,718.8 400.5,718.7 401.7,717.8 403.1,717.7 404.3,717.0 405.3,715.9 406.9,715.9 408.1,715.3 408.6,713.6 410.3,713.8 411.4,713.0 412.5,712.2 413.3,710.8 414.9,710.8 415.9,709.8 416.6,711.0 417.7,711.8 418.4,713.1 419.4,714.0 420.6,714.7 421.7,715.6 423.1,716.2 424.7,715.5 426.1,715.8 427.5,716.2 429.0,716.3 430.4,717.0 431.9,716.7 433.4,716.9 434.8,717.0 436.3,717.0 437.8,717.5 439.2,716.9 440.6,717.3 442.1,717.1 443.6,716.9 445.0,716.8 446.4,716.6 447.9,717.0 448.9,718.0 449.0,719.4 449.6,720.6 450.3,721.7 450.3,723.1 450.8,724.3 451.8,725.4 452.0,727.1 453.0,728.2 453.9,729.4 454.6,730.7 456.0,731.6 456.6,733.0 458.0,733.1 459.0,734.1 460.5,734.2 461.4,735.5 462.8,735.4 463.9,736.4 465.3,736.5" stroke="#50f0a8" class="d"/>
<polyline points="415.3,645.9 414.0,646.5 412.8,647.2 412.2,648.7 410.5,648.8 410.0,650.4 408.5,650.7 407.8,652.1 406.2,652.3 405.6,653.7 404.1,654.0 402.9,654.9 402.0,655.9 400.7,656.1 399.6,656.9 398.2,656.9 397.0,657.2 396.2,658.6 394.8,658.7 393.4,658.6 392.3,659.3 391.2,660.1 390.1,660.8 388.8,661.0 387.5,660.9 386.6,662.3 385.2,662.0 384.0,662.3 383.0,663.1 382.3,664.2 381.2,664.7 380.2,665.5 379.1,666.0 378.3,666.9 377.2,667.5 375.9,668.1 374.9,669.1 374.4,670.6 372.9,671.0 372.6,672.7 371.3,673.3 370.3,674.1 368.9,673.7 367.7,673.9 366.6,674.1 365.5,674.8 365.5,673.4 364.8,672.4 363.7,671.6 363.4,670.4 362.1,670.3 360.8,670.4 359.7,671.1 358.8,672.3 357.4,672.6 356.4,673.7 355.3,674.4 353.9,674.8 352.9,675.7 351.8,676.3 350.6,676.9 350.3,678.5 349.1,679.0 348.1,679.8 346.8,680.2 346.2,681.3 345.5,682.3 344.9,683.4 343.8,684.0 345.1,683.5 346.1,682.5 347.5,682.3 348.7,681.6 349.7,680.7 351.1,680.5 352.1,679.5 353.3,678.9 354.7,678.7 355.6,677.4 356.8,676.7 358.2,676.5 359.3,675.7 360.7,675.6 361.6,674.3 362.8,673.8 364.1,673.3 363.2,674.4 361.7,674.7 360.6,675.5 359.4,676.1 358.0,676.4 357.2,677.9 355.4,677.6 354.4,678.5 353.2,679.1 352.1,680.1 350.9,680.7 349.8,681.6 348.6,682.3 347.5,683.1 346.3,683.7 345.1,684.4 343.8,684.9 343.0,686.0 341.5,686.5 340.9,687.8 339.7,688.6 339.0,689.7 338.7,691.2 337.6,692.1 336.5,692.9 335.5,693.8 334.4,694.7 333.7,695.9 332.5,696.7 331.3,697.4 330.7,698.7 330.1,699.8 329.1,700.6 328.0,701.2 327.5,702.4 326.4,703.0 325.8,704.2 324.9,705.0 324.2,706.3 322.9,706.7 321.8,707.5" stroke="#0028ff" class="d"/>
<polyline points="387.3,662.4 386.4,663.4 384.8,663.6 383.9,664.6 383.6,666.2 381.9,666.3 381.1,667.5 380.7,669.0 378.7,668.8 378.5,670.5 377.2,671.1 376.7,672.4 375.8,673.3 374.9,674.3 374.7,675.8 373.3,676.4 372.3,677.3 372.0,678.7 371.3,679.8 370.4,680.8 370.1,682.2 369.4,683.3 369.8,684.9 369.1,686.0 368.4,687.1 367.9,688.3 367.8,689.7 366.0,690.2 365.9,691.6 365.5,692.9 365.6,694.4 364.4,695.3 364.2,696.6 364.0,698.0 363.6,699.2 362.6,700.2 362.2,701.3 362.4,702.7 361.2,703.5 360.8,704.6 361.0,705.9 360.0,706.8 361.4,706.9 362.1,705.2 363.4,704.9 365.0,705.4 365.8,704.1 367.2,703.9 368.4,703.7 369.6,703.0 370.8,702.7 372.0,702.2 373.2,701.7 374.4,701.3 375.1,699.9 377.0,700.1 377.6,698.7 378.5,697.6 380.0,697.2 381.5,697.0 382.5,696.0 383.5,695.0 382.5,695.8 381.4,696.6 380.7,697.7 379.2,697.9 378.5,699.0 377.7,700.2 376.6,700.9 375.6,701.7 374.0,701.7 372.8,702.2 371.8,703.1 371.3,704.6 370.0,705.0 370.4,706.3 369.0,707.3 369.7,708.6 369.9,709.9 369.1,711.0 369.0,712.2 368.3,713.4 367.9,714.8 367.5,716.1 367.2,717.5 366.4,718.7 366.0,720.0 365.4,721.3 366.7,721.2 367.8,720.4 369.0,719.9 370.5,720.4 371.3,718.7 372.8,719.3 373.8,718.4 375.2,718.6 376.3,717.7 375.2,718.4 374.4,719.4 373.4,720.3 373.0,721.6 372.3,722.8 370.5,722.8 370.2,724.3 369.0,724.9 370.0,723.9 371.6,724.6 372.7,723.8 373.6,722.6 375.1,722.9 376.1,722.0 377.7,722.7 378.6,721.4 379.9,721.3 381.3,722.1 382.7,721.6 384.1,720.8 385.5,721.4 386.8,722.4 388.2,722.0 389.7,721.2 391.0,721.6 392.4,721.6 393.9,721.3 395.2,722.2 396.6,722.4 398.0,722.2" stroke="#0028ff" class="d"/>
<polyline points="322.3,652.6 328.0,649.2" stroke="#ff0000" class="d"/>
<path d="M43.80 230.7V228.50M43.80 4.4V6.60M91.25 230.7V228.50M91.25 4.4V6.60M138.70 230.7V228.50M138.70 4.4V6.60M186.15 230.7V228.50M186.15 4.4V6.60M233.60 230.7V228.50M233.60 4.4V6.60M43.8 4.40H46.00M233.6 4.40H231.40M43.8 42.30H46.00M233.6 42.30H231.40M43.8 79.50H46.00M233.6 79.50H231.40M43.8 117.50H46.00M233.6 117.50H231.40M43.8 155.40H46.00M233.6 155.40H231.40M43.8 193.40H46.00M233.6 193.40H231.40M43.8 230.70H46.00M233.6 230.70H231.40" class="t"/>
<rect x="43.8" y="4.4" width="189.80" height="226.30" class="f"/>
<path d="M321.80 230.7V228.50M321.80 4.4V6.60M369.30 230.7V228.50M369.30 4.4V6.60M416.80 230.7V228.50M416.80 4.4V6.60M464.30 230.7V228.50M464.30 4.4V6.60M511.80 230.7V228.50M511.80 4.4V6.60M321.8 4.40H324.00M511.8 4.40H509.60M321.8 42.30H324.00M511.8 42.30H509.60M321.8 79.50H324.00M511.8 79.50H509.60M321.8 117.50H324.00M511.8 117.50H509.60M321.8 155.40H324.00M511.8 155.40H509.60M321.8 193.40H324.00M511.8 193.40H509.60M321.8 230.70H324.00M511.8 230.70H509.60" class="t"/>
<rect x="321.8" y="4.4" width="190.00" height="226.30" class="f"/>
<path d="M43.80 500.6V498.40M43.80 274.3V276.50M106.50 500.6V498.40M106.50 274.3V276.50M170.50 500.6V498.40M170.50 274.3V276.50M233.60 500.6V498.40M233.60 274.3V276.50M43.8 274.30H46.00M233.6 274.30H231.40M43.8 312.20H46.00M233.6 312.20H231.40M43.8 349.40H46.00M233.6 349.40H231.40M43.8 387.40H46.00M233.6 387.40H231.40M43.8 425.30H46.00M233.6 425.30H231.40M43.8 463.30H46.00M233.6 463.30H231.40M43.8 500.60H46.00M233.6 500.60H231.40" class="t"/>
<rect x="43.8" y="274.3" width="189.80" height="226.30" class="f"/>
<path d="M321.80 500.6V498.40M321.80 274.3V276.50M384.50 500.6V498.40M384.50 274.3V276.50M448.50 500.6V498.40M448.50 274.3V276.50M511.80 500.6V498.40M511.80 274.3V276.50M321.8 274.30H324.00M511.8 274.30H509.60M321.8 312.20H324.00M511.8 312.20H509.60M321.8 349.40H324.00M511.8 349.40H509.60M321.8 387.40H324.00M511.8 387.40H509.60M321.8 425.30H324.00M511.8 425.30H509.60M321.8 463.30H324.00M511.8 463.30H509.60M321.8 500.60H324.00M511.8 500.60H509.60" class="t"/>
<rect x="321.8" y="274.3" width="190.00" height="226.30" class="f"/>
<path d="M43.80 741.0V738.80M43.80 551.0V553.20M106.50 741.0V738.80M106.50 551.0V553.20M170.50 741.0V738.80M170.50 551.0V553.20M233.60 741.0V738.80M233.60 551.0V553.20M43.8 551.00H46.00M233.6 551.00H231.40M43.8 574.75H46.00M233.6 574.75H231.40M43.8 598.50H46.00M233.6 598.50H231.40M43.8 622.25H46.00M233.6 622.25H231.40M43.8 646.00H46.00M233.6 646.00H231.40M43.8 669.75H46.00M233.6 669.75H231.40M43.8 693.50H46.00M233.6 693.50H231.40M43.8 717.25H46.00M233.6 717.25H231.40M43.8 741.00H46.00M233.6 741.00H231.40" class="t"/>
<rect x="43.8" y="551.0" width="189.80" height="190.00" class="f"/>
<path d="M321.80 741.0V738.80M321.80 551.0V553.20M384.50 741.0V738.80M384.50 551.0V553.20M448.50 741.0V738.80M448.50 551.0V553.20M511.80 741.0V738.80M511.80 551.0V553.20M321.8 551.00H324.00M511.8 551.00H509.60M321.8 574.75H324.00M511.8 574.75H509.60M321.8 598.50H324.00M511.8 598.50H509.60M321.8 622.25H324.00M511.8 622.25H509.60M321.8 646.00H324.00M511.8 646.00H509.60M321.8 669.75H324.00M511.8 669.75H509.60M321.8 693.50H324.00M511.8 693.50H509.60M321.8 717.25H324.00M511.8 717.25H509.60M321.8 741.00H324.00M511.8 741.00H509.60" class="t"/>
<rect x="321.8" y="551.0" width="190.00" height="190.00" class="f"/>
<text x="40.3" y="8.4" font-size="12" text-anchor="end" >0</text>
<text x="40.3" y="46.3" font-size="12" text-anchor="end" >500</text>
<text x="40.3" y="83.5" font-size="12" text-anchor="end" >1000</text>
<text x="40.3" y="121.5" font-size="12" text-anchor="end" >1500</text>
<text x="40.3" y="159.4" font-size="12" text-anchor="end" >2000</text>
<text x="40.3" y="197.4" font-size="12" text-anchor="end" >2500</text>
<text x="40.3" y="234.7" font-size="12" text-anchor="end" >3000</text>
<text x="43.8" y="246.7" font-size="12" text-anchor="middle" >-1</text>
<text x="91.2" y="246.7" font-size="12" text-anchor="middle" >0</text>
<text x="138.7" y="246.7" font-size="12" text-anchor="middle" >1</text>
<text x="186.2" y="246.7" font-size="12" text-anchor="middle" >2</text>
<text x="233.6" y="246.7" font-size="12" text-anchor="middle" >3</text>
<text x="318.3" y="8.4" font-size="12" text-anchor="end" >0</text>
<text x="318.3" y="46.3" font-size="12" text-anchor="end" >500</text>
<text x="318.3" y="83.5" font-size="12" text-anchor="end" >1000</text>
<text x="318.3" y="121.5" font-size="12" text-anchor="end" >1500</text>
<text x="318.3" y="159.4" font-size="12" text-anchor="end" >2000</text>
<text x="318.3" y="197.4" font-size="12" text-anchor="end" >2500</text>
<text x="318.3" y="234.7" font-size="12" text-anchor="end" >3000</text>
<text x="321.8" y="246.7" font-size="12" text-anchor="middle" >-1</text>
<text x="369.3" y="246.7" font-size="12" text-anchor="middle" >0</text>
<text x="416.8" y="246.7" font-size="12" text-anchor="middle" >1</text>
<text x="464.3" y="246.7" font-size="12" text-anchor="middle" >2</text>
<text x="511.8" y="246.7" font-size="12" text-anchor="middle" >3</text>
<text x="40.3" y="278.3" font-size="12" text-anchor="end" >0</text>
<text x="40.3" y="316.2" font-size="12" text-anchor="end" >500</text>
<text x="40.3" y="353.4" font-size="12" text-anchor="end" >1000</text>
<text x="40.3" y="391.4" font-size="12" text-anchor="end" >1500</text>
<text x="40.3" y="429.3" font-size="12" text-anchor="end" >2000</text>
<text x="40.3" y="467.3" font-size="12" text-anchor="end" >2500</text>
<text x="40.3" y="504.6" font-size="12" text-anchor="end" >3000</text>
<text x="43.8" y="516.1" font-size="12" text-anchor="middle" >34.7</text>
<text x="106.5" y="516.1" font-size="12" text-anchor="middle" >34.8</text>
<text x="170.5" y="516.1" font-size="12" text-anchor="middle" >34.9</text>
<text x="233.6" y="516.1" font-size="12" text-anchor="middle" >35</text>
<text x="318.3" y="278.3" font-size="12" text-anchor="end" >0</text>
<text x="318.3" y="316.2" font-size="12" text-anchor="end" >500</text>
<text x="318.3" y="353.4" font-size="12" text-anchor="end" >1000</text>
<text x="318.3" y="391.4" font-size="12" text-anchor="end" >1500</text>
<text x="318.3" y="429.3" font-size="12" text-anchor="end" >2000</text>
<text x="318.3" y="467.3" font-size="12" text-anchor="end" >2500</text>
<text x="318.3" y="504.6" font-size="12" text-anchor="end" >3000</text>
<text x="321.8" y="518.7" font-size="12" text-anchor="middle" >34.7</text>
<text x="384.5" y="518.7" font-size="12" text-anchor="middle" >34.8</text>
<text x="448.5" y="518.7" font-size="12" text-anchor="middle" >34.9</text>
<text x="511.8" y="518.7" font-size="12" text-anchor="middle" >35</text>
<text x="40.3" y="555.0" font-size="12" text-anchor="end" >3.0</text>
<text x="40.3" y="578.8" font-size="12" text-anchor="end" >2.5</text>
<text x="40.3" y="602.5" font-size="12" text-anchor="end" >2.0</text>
<text x="40.3" y="626.2" font-size="12" text-anchor="end" >1.5</text>
<text x="40.3" y="650.0" font-size="12" text-anchor="end" >1.0</text>
<text x="40.3" y="673.8" font-size="12" text-anchor="end" >0.5</text>
<text x="40.3" y="697.5" font-size="12" text-anchor="end" >0</text>
<text x="40.3" y="721.2" font-size="12" text-anchor="end" >-0.5</text>
<text x="40.3" y="745.0" font-size="12" text-anchor="end" >-1.0</text>
<text x="43.8" y="756.6" font-size="12" text-anchor="middle" >34.7</text>
<text x="106.5" y="756.6" font-size="12" text-anchor="middle" >34.8</text>
<text x="170.5" y="756.6" font-size="12" text-anchor="middle" >34.9</text>
<text x="233.6" y="756.6" font-size="12" text-anchor="middle" >35</text>
<text x="318.3" y="555.0" font-size="12" text-anchor="end" >3.0</text>
<text x="318.3" y="578.8" font-size="12" text-anchor="end" >2.5</text>
<text x="318.3" y="602.5" font-size="12" text-anchor="end" >2.0</text>
<text x="318.3" y="626.2" font-size="12" text-anchor="end" >1.5</text>
<text x="318.3" y="650.0" font-size="12" text-anchor="end" >1.0</text>
<text x="318.3" y="673.8" font-size="12" text-anchor="end" >0.5</text>
<text x="318.3" y="697.5" font-size="12" text-anchor="end" >0</text>
<text x="318.3" y="721.2" font-size="12" text-anchor="end" >-0.5</text>
<text x="318.3" y="745.0" font-size="12" text-anchor="end" >-1.0</text>
<text x="321.8" y="756.6" font-size="12" text-anchor="middle" >34.7</text>
<text x="384.5" y="756.6" font-size="12" text-anchor="middle" >34.8</text>
<text x="448.5" y="756.6" font-size="12" text-anchor="middle" >34.9</text>
<text x="511.8" y="756.6" font-size="12" text-anchor="middle" >35</text>
<text x="78.6" y="260.3" font-size="11.4" text-anchor="start" letter-spacing="0.34">potential temperature [°C]</text>
<text x="349.5" y="260.3" font-size="11.4" text-anchor="start" letter-spacing="0.34">potential temperature [°C]</text>
<text x="138.2" y="529.7" font-size="11.4" text-anchor="middle" letter-spacing="0.25">salinity</text>
<text x="416.7" y="529.7" font-size="11.4" text-anchor="middle" letter-spacing="0.25">salinity</text>
<text x="138.2" y="769.2" font-size="11.4" text-anchor="middle" letter-spacing="0.25">salinity</text>
<text x="416.7" y="769.2" font-size="11.4" text-anchor="middle" letter-spacing="0.25">salinity</text>
<text transform="translate(9.0,116.9) rotate(-90)" font-size="11.4" letter-spacing="0.4" text-anchor="middle">pressure [dbar]</text>
<text transform="translate(286.8,116.9) rotate(-90)" font-size="11.4" letter-spacing="0.4" text-anchor="middle">pressure [dbar]</text>
<text transform="translate(9.0,386.9) rotate(-90)" font-size="11.4" letter-spacing="0.4" text-anchor="middle">pressure [dbar]</text>
<text transform="translate(286.8,386.9) rotate(-90)" font-size="11.4" letter-spacing="0.4" text-anchor="middle">pressure [dbar]</text>
<text transform="translate(14.0,651.7) rotate(-90)" font-size="11.4" letter-spacing="0.34" text-anchor="middle">potential temperature [°C]</text>
<text transform="translate(290.5,649.0) rotate(-90)" font-size="11.4" letter-spacing="0.34" text-anchor="middle">potential temperature [°C]</text>
<text x="242.7" y="664.7" font-size="14">σ<tspan font-size="10.5">0.5</tspan></text>
<text x="235.5" y="679.5" font-size="12" text-anchor="start" >30.444</text>
<text x="242.7" y="694.0" font-size="14">σ<tspan font-size="10.5">1.5</tspan></text>
<text x="235.5" y="708.0" font-size="12" text-anchor="start" >35.142</text>
<text x="242.7" y="723.9" font-size="14">σ<tspan font-size="10.5">2.5</tspan></text>
<text x="235.5" y="738.3" font-size="12" text-anchor="start" >39.738</text>
<text x="520.9000000000001" y="669.0" font-size="14">σ<tspan font-size="10.5">0.5</tspan></text>
<text x="513.7" y="682.6" font-size="12" text-anchor="start" >30.444</text>
<text x="520.9000000000001" y="695.0" font-size="14">σ<tspan font-size="10.5">1.5</tspan></text>
<text x="513.7" y="709.0" font-size="12" text-anchor="start" >35.142</text>
<text x="520.9000000000001" y="720.8" font-size="14">σ<tspan font-size="10.5">2.5</tspan></text>
<text x="513.7" y="734.4" font-size="12" text-anchor="start" >39.738</text>
</svg>
</body></html>
